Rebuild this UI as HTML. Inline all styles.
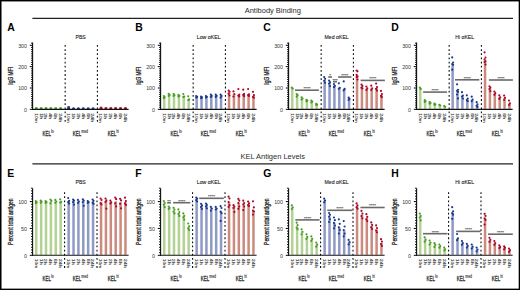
<!DOCTYPE html>
<html><head><meta charset="utf-8"><style>
html,body{margin:0;padding:0;background:#fff;}
body{width:520px;height:290px;position:relative;overflow:hidden;font-family:"Liberation Sans",sans-serif;}
svg text{font-family:"Liberation Sans",sans-serif;}
.frame{position:absolute;left:0;top:0;width:520px;height:290px;box-sizing:border-box;border:1px solid #000;box-shadow:inset 0.6px 0.6px 0 0 #222, inset -0.4px -0.4px 0 0 #444;}
</style></head><body>
<svg width="520" height="290" viewBox="0 0 520 290" style="position:absolute;left:0;top:0">
<rect x="0" y="0" width="520" height="290" fill="#fff"/>
<text x="244.7" y="13.4" font-size="7.6" fill="#2a2a2a" textLength="56.1" lengthAdjust="spacingAndGlyphs">Antibody Binding</text>
<line x1="32.4" y1="18.3" x2="513" y2="18.3" stroke="#222" stroke-width="1.3"/>
<text x="7.2" y="30.8" font-size="10.4" font-weight="bold" fill="#000">A</text>
<text x="80.65" y="38.5" font-size="5.5" fill="#1e1e1e" stroke="#1e1e1e" stroke-width="0.12" text-anchor="middle" textLength="10.3" lengthAdjust="spacingAndGlyphs">PBS</text>
<text transform="translate(13.05,75.8) rotate(-90)" font-size="7.0" fill="#222" stroke="#222" stroke-width="0.3" text-anchor="middle" textLength="17.8" lengthAdjust="spacingAndGlyphs">IgG MFI</text>
<line x1="65.15" y1="45.0" x2="65.15" y2="121.8" stroke="#000" stroke-width="1.05" stroke-dasharray="1.8 2.36"/>
<line x1="97.4" y1="45.0" x2="97.4" y2="121.8" stroke="#000" stroke-width="1.05" stroke-dasharray="1.8 2.36"/>
<rect x="35.00" y="107.60" width="2.5" height="1.25" fill="#b2d293"/>
<rect x="39.88" y="107.60" width="2.5" height="1.25" fill="#b2d293"/>
<rect x="44.76" y="107.60" width="2.5" height="1.25" fill="#b2d293"/>
<rect x="49.64" y="107.60" width="2.5" height="1.25" fill="#b2d293"/>
<rect x="54.52" y="107.60" width="2.5" height="1.25" fill="#b2d293"/>
<rect x="59.40" y="107.60" width="2.5" height="1.25" fill="#b2d293"/>
<rect x="67.40" y="106.50" width="2.5" height="2.35" fill="#8f99c6"/>
<rect x="72.28" y="107.80" width="2.5" height="1.05" fill="#8f99c6"/>
<rect x="77.16" y="107.80" width="2.5" height="1.05" fill="#8f99c6"/>
<rect x="82.04" y="107.80" width="2.5" height="1.05" fill="#8f99c6"/>
<rect x="86.92" y="107.80" width="2.5" height="1.05" fill="#8f99c6"/>
<rect x="91.80" y="107.80" width="2.5" height="1.05" fill="#8f99c6"/>
<rect x="99.80" y="107.00" width="2.5" height="1.85" fill="#cc8a7e"/>
<rect x="104.68" y="107.50" width="2.5" height="1.35" fill="#cc8a7e"/>
<rect x="109.56" y="107.50" width="2.5" height="1.35" fill="#cc8a7e"/>
<rect x="114.44" y="107.50" width="2.5" height="1.35" fill="#cc8a7e"/>
<rect x="119.32" y="107.50" width="2.5" height="1.35" fill="#cc8a7e"/>
<rect x="124.20" y="107.50" width="2.5" height="1.35" fill="#cc8a7e"/>
<path d="M34.65,109.35 A1.6,2.35 0 0 1 37.85,109.35 Z" fill="#4a9c24"/>
<path d="M39.53,109.35 A1.6,2.35 0 0 1 42.73,109.35 Z" fill="#4a9c24"/>
<path d="M44.41,109.35 A1.6,2.35 0 0 1 47.61,109.35 Z" fill="#4a9c24"/>
<path d="M49.29,109.35 A1.6,2.35 0 0 1 52.49,109.35 Z" fill="#4a9c24"/>
<path d="M54.17,109.35 A1.6,2.35 0 0 1 57.37,109.35 Z" fill="#4a9c24"/>
<path d="M59.05,109.35 A1.6,2.35 0 0 1 62.25,109.35 Z" fill="#4a9c24"/>
<path d="M67.05,109.35 A1.6,3.45 0 0 1 70.25,109.35 Z" fill="#1b3a8a"/>
<path d="M71.93,109.35 A1.6,2.15 0 0 1 75.13,109.35 Z" fill="#1b3a8a"/>
<path d="M76.81,109.35 A1.6,2.15 0 0 1 80.01,109.35 Z" fill="#1b3a8a"/>
<path d="M81.69,109.35 A1.6,2.15 0 0 1 84.89,109.35 Z" fill="#1b3a8a"/>
<path d="M86.57,109.35 A1.6,2.15 0 0 1 89.77,109.35 Z" fill="#1b3a8a"/>
<path d="M91.45,109.35 A1.6,2.15 0 0 1 94.65,109.35 Z" fill="#1b3a8a"/>
<path d="M99.45,109.35 A1.6,2.95 0 0 1 102.65,109.35 Z" fill="#ac0828"/>
<path d="M104.33,109.35 A1.6,2.45 0 0 1 107.53,109.35 Z" fill="#ac0828"/>
<path d="M109.21,109.35 A1.6,2.45 0 0 1 112.41,109.35 Z" fill="#ac0828"/>
<path d="M114.09,109.35 A1.6,2.45 0 0 1 117.29,109.35 Z" fill="#ac0828"/>
<path d="M118.97,109.35 A1.6,2.45 0 0 1 122.17,109.35 Z" fill="#ac0828"/>
<path d="M123.85,109.35 A1.6,2.45 0 0 1 127.05,109.35 Z" fill="#ac0828"/>
<line x1="32.6" y1="42.4" x2="32.6" y2="109.85" stroke="#111" stroke-width="1.1"/>
<line x1="32.1" y1="109.35" x2="128.6" y2="109.35" stroke="#111" stroke-width="1.1"/>
<line x1="29.8" y1="109.35" x2="32.6" y2="109.35" stroke="#000" stroke-width="1.0"/>
<text x="27.0" y="111.75" font-size="5.3" fill="#333" text-anchor="end">0</text>
<line x1="31.0" y1="107.21" x2="32.6" y2="107.21" stroke="#000" stroke-width="0.9"/>
<line x1="31.0" y1="105.08" x2="32.6" y2="105.08" stroke="#000" stroke-width="0.9"/>
<line x1="31.0" y1="102.94" x2="32.6" y2="102.94" stroke="#000" stroke-width="0.9"/>
<line x1="31.0" y1="100.81" x2="32.6" y2="100.81" stroke="#000" stroke-width="0.9"/>
<line x1="31.0" y1="98.67" x2="32.6" y2="98.67" stroke="#000" stroke-width="0.9"/>
<line x1="31.0" y1="96.54" x2="32.6" y2="96.54" stroke="#000" stroke-width="0.9"/>
<line x1="31.0" y1="94.41" x2="32.6" y2="94.41" stroke="#000" stroke-width="0.9"/>
<line x1="31.0" y1="92.27" x2="32.6" y2="92.27" stroke="#000" stroke-width="0.9"/>
<line x1="31.0" y1="90.13" x2="32.6" y2="90.13" stroke="#000" stroke-width="0.9"/>
<line x1="29.8" y1="88.00" x2="32.6" y2="88.00" stroke="#000" stroke-width="1.0"/>
<text x="27.0" y="90.40" font-size="5.3" fill="#333" text-anchor="end">100</text>
<line x1="31.0" y1="85.86" x2="32.6" y2="85.86" stroke="#000" stroke-width="0.9"/>
<line x1="31.0" y1="83.73" x2="32.6" y2="83.73" stroke="#000" stroke-width="0.9"/>
<line x1="31.0" y1="81.59" x2="32.6" y2="81.59" stroke="#000" stroke-width="0.9"/>
<line x1="31.0" y1="79.46" x2="32.6" y2="79.46" stroke="#000" stroke-width="0.9"/>
<line x1="31.0" y1="77.32" x2="32.6" y2="77.32" stroke="#000" stroke-width="0.9"/>
<line x1="31.0" y1="75.19" x2="32.6" y2="75.19" stroke="#000" stroke-width="0.9"/>
<line x1="31.0" y1="73.05" x2="32.6" y2="73.05" stroke="#000" stroke-width="0.9"/>
<line x1="31.0" y1="70.92" x2="32.6" y2="70.92" stroke="#000" stroke-width="0.9"/>
<line x1="31.0" y1="68.78" x2="32.6" y2="68.78" stroke="#000" stroke-width="0.9"/>
<line x1="29.8" y1="66.65" x2="32.6" y2="66.65" stroke="#000" stroke-width="1.0"/>
<text x="27.0" y="69.05" font-size="5.3" fill="#333" text-anchor="end">200</text>
<line x1="31.0" y1="64.51" x2="32.6" y2="64.51" stroke="#000" stroke-width="0.9"/>
<line x1="31.0" y1="62.38" x2="32.6" y2="62.38" stroke="#000" stroke-width="0.9"/>
<line x1="31.0" y1="60.24" x2="32.6" y2="60.24" stroke="#000" stroke-width="0.9"/>
<line x1="31.0" y1="58.11" x2="32.6" y2="58.11" stroke="#000" stroke-width="0.9"/>
<line x1="31.0" y1="55.97" x2="32.6" y2="55.97" stroke="#000" stroke-width="0.9"/>
<line x1="31.0" y1="53.84" x2="32.6" y2="53.84" stroke="#000" stroke-width="0.9"/>
<line x1="31.0" y1="51.70" x2="32.6" y2="51.70" stroke="#000" stroke-width="0.9"/>
<line x1="31.0" y1="49.57" x2="32.6" y2="49.57" stroke="#000" stroke-width="0.9"/>
<line x1="31.0" y1="47.43" x2="32.6" y2="47.43" stroke="#000" stroke-width="0.9"/>
<line x1="29.8" y1="45.30" x2="32.6" y2="45.30" stroke="#000" stroke-width="1.0"/>
<text x="27.0" y="47.70" font-size="5.3" fill="#333" text-anchor="end">300</text>
<line x1="31.0" y1="43.16" x2="32.6" y2="43.16" stroke="#000" stroke-width="0.9"/>
<text transform="translate(34.65,113.2) rotate(90)" font-size="4.3" fill="#4a4a4a" stroke="#4a4a4a" stroke-width="0.15" textLength="9.5" lengthAdjust="spacingAndGlyphs">10m</text>
<text transform="translate(39.53,113.2) rotate(90)" font-size="4.3" fill="#4a4a4a" stroke="#4a4a4a" stroke-width="0.15" textLength="6.0" lengthAdjust="spacingAndGlyphs">1h</text>
<text transform="translate(44.41,113.2) rotate(90)" font-size="4.3" fill="#4a4a4a" stroke="#4a4a4a" stroke-width="0.15" textLength="6.0" lengthAdjust="spacingAndGlyphs">2h</text>
<text transform="translate(49.29,113.2) rotate(90)" font-size="4.3" fill="#4a4a4a" stroke="#4a4a4a" stroke-width="0.15" textLength="6.0" lengthAdjust="spacingAndGlyphs">4h</text>
<text transform="translate(54.17,113.2) rotate(90)" font-size="4.3" fill="#4a4a4a" stroke="#4a4a4a" stroke-width="0.15" textLength="6.0" lengthAdjust="spacingAndGlyphs">6h</text>
<text transform="translate(59.05,113.2) rotate(90)" font-size="4.3" fill="#4a4a4a" stroke="#4a4a4a" stroke-width="0.15" textLength="9.0" lengthAdjust="spacingAndGlyphs">24h</text>
<text transform="translate(67.05,113.2) rotate(90)" font-size="4.3" fill="#4a4a4a" stroke="#4a4a4a" stroke-width="0.15" textLength="9.5" lengthAdjust="spacingAndGlyphs">10m</text>
<text transform="translate(71.93,113.2) rotate(90)" font-size="4.3" fill="#4a4a4a" stroke="#4a4a4a" stroke-width="0.15" textLength="6.0" lengthAdjust="spacingAndGlyphs">1h</text>
<text transform="translate(76.81,113.2) rotate(90)" font-size="4.3" fill="#4a4a4a" stroke="#4a4a4a" stroke-width="0.15" textLength="6.0" lengthAdjust="spacingAndGlyphs">2h</text>
<text transform="translate(81.69,113.2) rotate(90)" font-size="4.3" fill="#4a4a4a" stroke="#4a4a4a" stroke-width="0.15" textLength="6.0" lengthAdjust="spacingAndGlyphs">4h</text>
<text transform="translate(86.57,113.2) rotate(90)" font-size="4.3" fill="#4a4a4a" stroke="#4a4a4a" stroke-width="0.15" textLength="6.0" lengthAdjust="spacingAndGlyphs">6h</text>
<text transform="translate(91.45,113.2) rotate(90)" font-size="4.3" fill="#4a4a4a" stroke="#4a4a4a" stroke-width="0.15" textLength="9.0" lengthAdjust="spacingAndGlyphs">24h</text>
<text transform="translate(99.45,113.2) rotate(90)" font-size="4.3" fill="#4a4a4a" stroke="#4a4a4a" stroke-width="0.15" textLength="9.5" lengthAdjust="spacingAndGlyphs">10m</text>
<text transform="translate(104.33,113.2) rotate(90)" font-size="4.3" fill="#4a4a4a" stroke="#4a4a4a" stroke-width="0.15" textLength="6.0" lengthAdjust="spacingAndGlyphs">1h</text>
<text transform="translate(109.21,113.2) rotate(90)" font-size="4.3" fill="#4a4a4a" stroke="#4a4a4a" stroke-width="0.15" textLength="6.0" lengthAdjust="spacingAndGlyphs">2h</text>
<text transform="translate(114.09,113.2) rotate(90)" font-size="4.3" fill="#4a4a4a" stroke="#4a4a4a" stroke-width="0.15" textLength="6.0" lengthAdjust="spacingAndGlyphs">4h</text>
<text transform="translate(118.97,113.2) rotate(90)" font-size="4.3" fill="#4a4a4a" stroke="#4a4a4a" stroke-width="0.15" textLength="6.0" lengthAdjust="spacingAndGlyphs">6h</text>
<text transform="translate(123.85,113.2) rotate(90)" font-size="4.3" fill="#4a4a4a" stroke="#4a4a4a" stroke-width="0.15" textLength="9.0" lengthAdjust="spacingAndGlyphs">24h</text>
<text x="42.50" y="135.8" font-size="8.0" fill="#1a1a1a" stroke="#1a1a1a" stroke-width="0.3" textLength="8.5" lengthAdjust="spacingAndGlyphs">KEL</text>
<text x="50.90" y="133.20" font-size="5.4" font-weight="bold" fill="#333" textLength="3.1" lengthAdjust="spacingAndGlyphs">lo</text>
<text x="72.85" y="135.8" font-size="8.0" fill="#1a1a1a" stroke="#1a1a1a" stroke-width="0.3" textLength="8.5" lengthAdjust="spacingAndGlyphs">KEL</text>
<text x="81.25" y="133.20" font-size="5.4" font-weight="bold" fill="#333" textLength="6.8" lengthAdjust="spacingAndGlyphs">med</text>
<text x="107.75" y="135.8" font-size="8.0" fill="#1a1a1a" stroke="#1a1a1a" stroke-width="0.3" textLength="8.5" lengthAdjust="spacingAndGlyphs">KEL</text>
<text x="116.15" y="133.20" font-size="5.4" font-weight="bold" fill="#333" textLength="2.8" lengthAdjust="spacingAndGlyphs">hi</text>
<text x="135.2" y="30.8" font-size="10.4" font-weight="bold" fill="#000">B</text>
<text x="208.65" y="38.5" font-size="5.5" fill="#1e1e1e" stroke="#1e1e1e" stroke-width="0.12" text-anchor="middle" textLength="23.8" lengthAdjust="spacingAndGlyphs">Low αKEL</text>
<text transform="translate(141.05,75.8) rotate(-90)" font-size="7.0" fill="#222" stroke="#222" stroke-width="0.3" text-anchor="middle" textLength="17.8" lengthAdjust="spacingAndGlyphs">IgG MFI</text>
<line x1="193.15" y1="45.0" x2="193.15" y2="121.8" stroke="#000" stroke-width="1.05" stroke-dasharray="1.8 2.36"/>
<line x1="225.4" y1="45.0" x2="225.4" y2="121.8" stroke="#000" stroke-width="1.05" stroke-dasharray="1.8 2.36"/>
<rect x="163.00" y="97.10" width="2.5" height="11.75" fill="#b2d293"/>
<rect x="167.88" y="94.90" width="2.5" height="13.95" fill="#b2d293"/>
<rect x="172.76" y="95.00" width="2.5" height="13.85" fill="#b2d293"/>
<rect x="177.64" y="95.80" width="2.5" height="13.05" fill="#b2d293"/>
<rect x="182.52" y="96.60" width="2.5" height="12.25" fill="#b2d293"/>
<rect x="187.40" y="99.40" width="2.5" height="9.45" fill="#b2d293"/>
<rect x="195.40" y="96.80" width="2.5" height="12.05" fill="#8f99c6"/>
<rect x="200.28" y="97.40" width="2.5" height="11.45" fill="#8f99c6"/>
<rect x="205.16" y="96.80" width="2.5" height="12.05" fill="#8f99c6"/>
<rect x="210.04" y="95.80" width="2.5" height="13.05" fill="#8f99c6"/>
<rect x="214.92" y="95.80" width="2.5" height="13.05" fill="#8f99c6"/>
<rect x="219.80" y="95.90" width="2.5" height="12.95" fill="#8f99c6"/>
<rect x="227.80" y="92.75" width="2.5" height="16.10" fill="#cc8a7e"/>
<rect x="232.68" y="94.00" width="2.5" height="14.85" fill="#cc8a7e"/>
<rect x="237.56" y="95.05" width="2.5" height="13.80" fill="#cc8a7e"/>
<rect x="242.44" y="94.40" width="2.5" height="14.45" fill="#cc8a7e"/>
<rect x="247.32" y="94.75" width="2.5" height="14.10" fill="#cc8a7e"/>
<rect x="252.20" y="96.10" width="2.5" height="12.75" fill="#cc8a7e"/>
<circle cx="163.80" cy="96.00" r="1.08" fill="#4a9c24"/>
<circle cx="164.70" cy="97.10" r="1.08" fill="#4a9c24"/>
<circle cx="163.80" cy="98.20" r="1.08" fill="#4a9c24"/>
<circle cx="168.68" cy="93.80" r="1.08" fill="#4a9c24"/>
<circle cx="169.58" cy="94.90" r="1.08" fill="#4a9c24"/>
<circle cx="168.68" cy="96.00" r="1.08" fill="#4a9c24"/>
<circle cx="173.56" cy="94.00" r="1.08" fill="#4a9c24"/>
<circle cx="174.46" cy="95.00" r="1.08" fill="#4a9c24"/>
<circle cx="173.56" cy="96.00" r="1.08" fill="#4a9c24"/>
<circle cx="178.44" cy="94.90" r="1.08" fill="#4a9c24"/>
<circle cx="179.34" cy="95.80" r="1.08" fill="#4a9c24"/>
<circle cx="178.44" cy="96.60" r="1.08" fill="#4a9c24"/>
<circle cx="183.32" cy="94.00" r="1.08" fill="#4a9c24"/>
<circle cx="184.22" cy="96.60" r="1.08" fill="#4a9c24"/>
<circle cx="183.32" cy="96.90" r="1.08" fill="#4a9c24"/>
<circle cx="188.20" cy="96.30" r="1.08" fill="#4a9c24"/>
<circle cx="189.10" cy="99.40" r="1.08" fill="#4a9c24"/>
<circle cx="188.20" cy="100.00" r="1.08" fill="#4a9c24"/>
<circle cx="196.20" cy="96.00" r="1.08" fill="#1b3a8a"/>
<circle cx="197.10" cy="96.80" r="1.08" fill="#1b3a8a"/>
<circle cx="196.20" cy="97.60" r="1.08" fill="#1b3a8a"/>
<circle cx="201.08" cy="96.60" r="1.08" fill="#1b3a8a"/>
<circle cx="201.98" cy="97.40" r="1.08" fill="#1b3a8a"/>
<circle cx="201.08" cy="98.20" r="1.08" fill="#1b3a8a"/>
<circle cx="205.96" cy="96.00" r="1.08" fill="#1b3a8a"/>
<circle cx="206.86" cy="96.80" r="1.08" fill="#1b3a8a"/>
<circle cx="205.96" cy="97.60" r="1.08" fill="#1b3a8a"/>
<circle cx="210.84" cy="94.70" r="1.08" fill="#1b3a8a"/>
<circle cx="211.74" cy="95.80" r="1.08" fill="#1b3a8a"/>
<circle cx="210.84" cy="96.90" r="1.08" fill="#1b3a8a"/>
<circle cx="215.72" cy="94.70" r="1.08" fill="#1b3a8a"/>
<circle cx="216.62" cy="95.80" r="1.08" fill="#1b3a8a"/>
<circle cx="215.72" cy="96.90" r="1.08" fill="#1b3a8a"/>
<circle cx="220.60" cy="94.70" r="1.08" fill="#1b3a8a"/>
<circle cx="221.50" cy="95.90" r="1.08" fill="#1b3a8a"/>
<circle cx="220.60" cy="97.60" r="1.08" fill="#1b3a8a"/>
<circle cx="228.60" cy="90.60" r="1.08" fill="#ac0828"/>
<circle cx="229.50" cy="91.80" r="1.08" fill="#ac0828"/>
<circle cx="228.60" cy="93.70" r="1.08" fill="#ac0828"/>
<circle cx="229.50" cy="95.50" r="1.08" fill="#ac0828"/>
<circle cx="233.48" cy="91.40" r="1.08" fill="#ac0828"/>
<circle cx="234.38" cy="94.00" r="1.08" fill="#ac0828"/>
<circle cx="233.48" cy="96.50" r="1.08" fill="#ac0828"/>
<circle cx="238.36" cy="89.00" r="1.08" fill="#ac0828"/>
<circle cx="239.26" cy="94.60" r="1.08" fill="#ac0828"/>
<circle cx="238.36" cy="95.50" r="1.08" fill="#ac0828"/>
<circle cx="239.26" cy="96.40" r="1.08" fill="#ac0828"/>
<circle cx="243.24" cy="89.70" r="1.08" fill="#ac0828"/>
<circle cx="244.14" cy="93.90" r="1.08" fill="#ac0828"/>
<circle cx="243.24" cy="94.90" r="1.08" fill="#ac0828"/>
<circle cx="244.14" cy="96.20" r="1.08" fill="#ac0828"/>
<circle cx="248.12" cy="89.00" r="1.08" fill="#ac0828"/>
<circle cx="249.02" cy="94.30" r="1.08" fill="#ac0828"/>
<circle cx="248.12" cy="95.20" r="1.08" fill="#ac0828"/>
<circle cx="249.02" cy="96.00" r="1.08" fill="#ac0828"/>
<circle cx="253.00" cy="91.80" r="1.08" fill="#ac0828"/>
<circle cx="253.90" cy="95.20" r="1.08" fill="#ac0828"/>
<circle cx="253.00" cy="97.00" r="1.08" fill="#ac0828"/>
<circle cx="253.90" cy="97.70" r="1.08" fill="#ac0828"/>
<line x1="160.6" y1="42.4" x2="160.6" y2="109.85" stroke="#111" stroke-width="1.1"/>
<line x1="160.1" y1="109.35" x2="256.6" y2="109.35" stroke="#111" stroke-width="1.1"/>
<line x1="157.79999999999998" y1="109.35" x2="160.6" y2="109.35" stroke="#000" stroke-width="1.0"/>
<text x="155.0" y="111.75" font-size="5.3" fill="#333" text-anchor="end">0</text>
<line x1="159.0" y1="107.21" x2="160.6" y2="107.21" stroke="#000" stroke-width="0.9"/>
<line x1="159.0" y1="105.08" x2="160.6" y2="105.08" stroke="#000" stroke-width="0.9"/>
<line x1="159.0" y1="102.94" x2="160.6" y2="102.94" stroke="#000" stroke-width="0.9"/>
<line x1="159.0" y1="100.81" x2="160.6" y2="100.81" stroke="#000" stroke-width="0.9"/>
<line x1="159.0" y1="98.67" x2="160.6" y2="98.67" stroke="#000" stroke-width="0.9"/>
<line x1="159.0" y1="96.54" x2="160.6" y2="96.54" stroke="#000" stroke-width="0.9"/>
<line x1="159.0" y1="94.41" x2="160.6" y2="94.41" stroke="#000" stroke-width="0.9"/>
<line x1="159.0" y1="92.27" x2="160.6" y2="92.27" stroke="#000" stroke-width="0.9"/>
<line x1="159.0" y1="90.13" x2="160.6" y2="90.13" stroke="#000" stroke-width="0.9"/>
<line x1="157.79999999999998" y1="88.00" x2="160.6" y2="88.00" stroke="#000" stroke-width="1.0"/>
<text x="155.0" y="90.40" font-size="5.3" fill="#333" text-anchor="end">100</text>
<line x1="159.0" y1="85.86" x2="160.6" y2="85.86" stroke="#000" stroke-width="0.9"/>
<line x1="159.0" y1="83.73" x2="160.6" y2="83.73" stroke="#000" stroke-width="0.9"/>
<line x1="159.0" y1="81.59" x2="160.6" y2="81.59" stroke="#000" stroke-width="0.9"/>
<line x1="159.0" y1="79.46" x2="160.6" y2="79.46" stroke="#000" stroke-width="0.9"/>
<line x1="159.0" y1="77.32" x2="160.6" y2="77.32" stroke="#000" stroke-width="0.9"/>
<line x1="159.0" y1="75.19" x2="160.6" y2="75.19" stroke="#000" stroke-width="0.9"/>
<line x1="159.0" y1="73.05" x2="160.6" y2="73.05" stroke="#000" stroke-width="0.9"/>
<line x1="159.0" y1="70.92" x2="160.6" y2="70.92" stroke="#000" stroke-width="0.9"/>
<line x1="159.0" y1="68.78" x2="160.6" y2="68.78" stroke="#000" stroke-width="0.9"/>
<line x1="157.79999999999998" y1="66.65" x2="160.6" y2="66.65" stroke="#000" stroke-width="1.0"/>
<text x="155.0" y="69.05" font-size="5.3" fill="#333" text-anchor="end">200</text>
<line x1="159.0" y1="64.51" x2="160.6" y2="64.51" stroke="#000" stroke-width="0.9"/>
<line x1="159.0" y1="62.38" x2="160.6" y2="62.38" stroke="#000" stroke-width="0.9"/>
<line x1="159.0" y1="60.24" x2="160.6" y2="60.24" stroke="#000" stroke-width="0.9"/>
<line x1="159.0" y1="58.11" x2="160.6" y2="58.11" stroke="#000" stroke-width="0.9"/>
<line x1="159.0" y1="55.97" x2="160.6" y2="55.97" stroke="#000" stroke-width="0.9"/>
<line x1="159.0" y1="53.84" x2="160.6" y2="53.84" stroke="#000" stroke-width="0.9"/>
<line x1="159.0" y1="51.70" x2="160.6" y2="51.70" stroke="#000" stroke-width="0.9"/>
<line x1="159.0" y1="49.57" x2="160.6" y2="49.57" stroke="#000" stroke-width="0.9"/>
<line x1="159.0" y1="47.43" x2="160.6" y2="47.43" stroke="#000" stroke-width="0.9"/>
<line x1="157.79999999999998" y1="45.30" x2="160.6" y2="45.30" stroke="#000" stroke-width="1.0"/>
<text x="155.0" y="47.70" font-size="5.3" fill="#333" text-anchor="end">300</text>
<line x1="159.0" y1="43.16" x2="160.6" y2="43.16" stroke="#000" stroke-width="0.9"/>
<text transform="translate(162.65,113.2) rotate(90)" font-size="4.3" fill="#4a4a4a" stroke="#4a4a4a" stroke-width="0.15" textLength="9.5" lengthAdjust="spacingAndGlyphs">10m</text>
<text transform="translate(167.53,113.2) rotate(90)" font-size="4.3" fill="#4a4a4a" stroke="#4a4a4a" stroke-width="0.15" textLength="6.0" lengthAdjust="spacingAndGlyphs">1h</text>
<text transform="translate(172.41,113.2) rotate(90)" font-size="4.3" fill="#4a4a4a" stroke="#4a4a4a" stroke-width="0.15" textLength="6.0" lengthAdjust="spacingAndGlyphs">2h</text>
<text transform="translate(177.29,113.2) rotate(90)" font-size="4.3" fill="#4a4a4a" stroke="#4a4a4a" stroke-width="0.15" textLength="6.0" lengthAdjust="spacingAndGlyphs">4h</text>
<text transform="translate(182.17,113.2) rotate(90)" font-size="4.3" fill="#4a4a4a" stroke="#4a4a4a" stroke-width="0.15" textLength="6.0" lengthAdjust="spacingAndGlyphs">6h</text>
<text transform="translate(187.05,113.2) rotate(90)" font-size="4.3" fill="#4a4a4a" stroke="#4a4a4a" stroke-width="0.15" textLength="9.0" lengthAdjust="spacingAndGlyphs">24h</text>
<text transform="translate(195.05,113.2) rotate(90)" font-size="4.3" fill="#4a4a4a" stroke="#4a4a4a" stroke-width="0.15" textLength="9.5" lengthAdjust="spacingAndGlyphs">10m</text>
<text transform="translate(199.93,113.2) rotate(90)" font-size="4.3" fill="#4a4a4a" stroke="#4a4a4a" stroke-width="0.15" textLength="6.0" lengthAdjust="spacingAndGlyphs">1h</text>
<text transform="translate(204.81,113.2) rotate(90)" font-size="4.3" fill="#4a4a4a" stroke="#4a4a4a" stroke-width="0.15" textLength="6.0" lengthAdjust="spacingAndGlyphs">2h</text>
<text transform="translate(209.69,113.2) rotate(90)" font-size="4.3" fill="#4a4a4a" stroke="#4a4a4a" stroke-width="0.15" textLength="6.0" lengthAdjust="spacingAndGlyphs">4h</text>
<text transform="translate(214.57,113.2) rotate(90)" font-size="4.3" fill="#4a4a4a" stroke="#4a4a4a" stroke-width="0.15" textLength="6.0" lengthAdjust="spacingAndGlyphs">6h</text>
<text transform="translate(219.45,113.2) rotate(90)" font-size="4.3" fill="#4a4a4a" stroke="#4a4a4a" stroke-width="0.15" textLength="9.0" lengthAdjust="spacingAndGlyphs">24h</text>
<text transform="translate(227.45,113.2) rotate(90)" font-size="4.3" fill="#4a4a4a" stroke="#4a4a4a" stroke-width="0.15" textLength="9.5" lengthAdjust="spacingAndGlyphs">10m</text>
<text transform="translate(232.33,113.2) rotate(90)" font-size="4.3" fill="#4a4a4a" stroke="#4a4a4a" stroke-width="0.15" textLength="6.0" lengthAdjust="spacingAndGlyphs">1h</text>
<text transform="translate(237.21,113.2) rotate(90)" font-size="4.3" fill="#4a4a4a" stroke="#4a4a4a" stroke-width="0.15" textLength="6.0" lengthAdjust="spacingAndGlyphs">2h</text>
<text transform="translate(242.09,113.2) rotate(90)" font-size="4.3" fill="#4a4a4a" stroke="#4a4a4a" stroke-width="0.15" textLength="6.0" lengthAdjust="spacingAndGlyphs">4h</text>
<text transform="translate(246.97,113.2) rotate(90)" font-size="4.3" fill="#4a4a4a" stroke="#4a4a4a" stroke-width="0.15" textLength="6.0" lengthAdjust="spacingAndGlyphs">6h</text>
<text transform="translate(251.85,113.2) rotate(90)" font-size="4.3" fill="#4a4a4a" stroke="#4a4a4a" stroke-width="0.15" textLength="9.0" lengthAdjust="spacingAndGlyphs">24h</text>
<text x="170.50" y="135.8" font-size="8.0" fill="#1a1a1a" stroke="#1a1a1a" stroke-width="0.3" textLength="8.5" lengthAdjust="spacingAndGlyphs">KEL</text>
<text x="178.90" y="133.20" font-size="5.4" font-weight="bold" fill="#333" textLength="3.1" lengthAdjust="spacingAndGlyphs">lo</text>
<text x="200.85" y="135.8" font-size="8.0" fill="#1a1a1a" stroke="#1a1a1a" stroke-width="0.3" textLength="8.5" lengthAdjust="spacingAndGlyphs">KEL</text>
<text x="209.25" y="133.20" font-size="5.4" font-weight="bold" fill="#333" textLength="6.8" lengthAdjust="spacingAndGlyphs">med</text>
<text x="235.75" y="135.8" font-size="8.0" fill="#1a1a1a" stroke="#1a1a1a" stroke-width="0.3" textLength="8.5" lengthAdjust="spacingAndGlyphs">KEL</text>
<text x="244.15" y="133.20" font-size="5.4" font-weight="bold" fill="#333" textLength="2.8" lengthAdjust="spacingAndGlyphs">hi</text>
<text x="263.2" y="30.8" font-size="10.4" font-weight="bold" fill="#000">C</text>
<text x="336.65" y="38.5" font-size="5.5" fill="#1e1e1e" stroke="#1e1e1e" stroke-width="0.12" text-anchor="middle" textLength="24.2" lengthAdjust="spacingAndGlyphs">Med αKEL</text>
<text transform="translate(269.05,75.8) rotate(-90)" font-size="7.0" fill="#222" stroke="#222" stroke-width="0.3" text-anchor="middle" textLength="17.8" lengthAdjust="spacingAndGlyphs">IgG MFI</text>
<line x1="321.15" y1="45.0" x2="321.15" y2="121.8" stroke="#000" stroke-width="1.05" stroke-dasharray="1.8 2.36"/>
<line x1="353.4" y1="45.0" x2="353.4" y2="121.8" stroke="#000" stroke-width="1.05" stroke-dasharray="1.8 2.36"/>
<rect x="291.00" y="88.10" width="2.5" height="20.75" fill="#b2d293"/>
<rect x="295.88" y="95.20" width="2.5" height="13.65" fill="#b2d293"/>
<rect x="300.76" y="98.50" width="2.5" height="10.35" fill="#b2d293"/>
<rect x="305.64" y="100.60" width="2.5" height="8.25" fill="#b2d293"/>
<rect x="310.52" y="101.60" width="2.5" height="7.25" fill="#b2d293"/>
<rect x="315.40" y="104.50" width="2.5" height="4.35" fill="#b2d293"/>
<rect x="323.40" y="79.80" width="2.5" height="29.05" fill="#8f99c6"/>
<rect x="328.28" y="82.90" width="2.5" height="25.95" fill="#8f99c6"/>
<rect x="333.16" y="85.80" width="2.5" height="23.05" fill="#8f99c6"/>
<rect x="338.04" y="87.80" width="2.5" height="21.05" fill="#8f99c6"/>
<rect x="342.92" y="88.90" width="2.5" height="19.95" fill="#8f99c6"/>
<rect x="347.80" y="98.80" width="2.5" height="10.05" fill="#8f99c6"/>
<rect x="355.80" y="75.55" width="2.5" height="33.30" fill="#cc8a7e"/>
<rect x="360.68" y="86.80" width="2.5" height="22.05" fill="#cc8a7e"/>
<rect x="365.56" y="88.30" width="2.5" height="20.55" fill="#cc8a7e"/>
<rect x="370.44" y="88.30" width="2.5" height="20.55" fill="#cc8a7e"/>
<rect x="375.32" y="88.00" width="2.5" height="20.85" fill="#cc8a7e"/>
<rect x="380.20" y="95.00" width="2.5" height="13.85" fill="#cc8a7e"/>
<circle cx="291.80" cy="87.60" r="1.08" fill="#4a9c24"/>
<circle cx="292.70" cy="88.60" r="1.08" fill="#4a9c24"/>
<circle cx="296.68" cy="94.00" r="1.08" fill="#4a9c24"/>
<circle cx="297.58" cy="95.20" r="1.08" fill="#4a9c24"/>
<circle cx="296.68" cy="96.70" r="1.08" fill="#4a9c24"/>
<circle cx="301.56" cy="97.30" r="1.08" fill="#4a9c24"/>
<circle cx="302.46" cy="98.50" r="1.08" fill="#4a9c24"/>
<circle cx="301.56" cy="99.60" r="1.08" fill="#4a9c24"/>
<circle cx="306.44" cy="99.80" r="1.08" fill="#4a9c24"/>
<circle cx="307.34" cy="100.60" r="1.08" fill="#4a9c24"/>
<circle cx="306.44" cy="101.30" r="1.08" fill="#4a9c24"/>
<circle cx="311.32" cy="100.60" r="1.08" fill="#4a9c24"/>
<circle cx="312.22" cy="101.60" r="1.08" fill="#4a9c24"/>
<circle cx="311.32" cy="102.50" r="1.08" fill="#4a9c24"/>
<circle cx="316.20" cy="103.90" r="1.08" fill="#4a9c24"/>
<circle cx="317.10" cy="104.50" r="1.08" fill="#4a9c24"/>
<circle cx="316.20" cy="105.00" r="1.08" fill="#4a9c24"/>
<circle cx="324.20" cy="77.00" r="1.08" fill="#1b3a8a"/>
<circle cx="325.10" cy="78.80" r="1.08" fill="#1b3a8a"/>
<circle cx="324.20" cy="80.80" r="1.08" fill="#1b3a8a"/>
<circle cx="325.10" cy="82.80" r="1.08" fill="#1b3a8a"/>
<circle cx="329.08" cy="80.60" r="1.08" fill="#1b3a8a"/>
<circle cx="329.98" cy="82.20" r="1.08" fill="#1b3a8a"/>
<circle cx="329.08" cy="83.60" r="1.08" fill="#1b3a8a"/>
<circle cx="329.98" cy="86.10" r="1.08" fill="#1b3a8a"/>
<circle cx="333.96" cy="84.10" r="1.08" fill="#1b3a8a"/>
<circle cx="334.86" cy="85.80" r="1.08" fill="#1b3a8a"/>
<circle cx="333.96" cy="87.20" r="1.08" fill="#1b3a8a"/>
<circle cx="338.84" cy="83.30" r="1.08" fill="#1b3a8a"/>
<circle cx="339.74" cy="87.80" r="1.08" fill="#1b3a8a"/>
<circle cx="338.84" cy="88.80" r="1.08" fill="#1b3a8a"/>
<circle cx="343.72" cy="81.40" r="1.08" fill="#1b3a8a"/>
<circle cx="344.62" cy="88.90" r="1.08" fill="#1b3a8a"/>
<circle cx="343.72" cy="90.40" r="1.08" fill="#1b3a8a"/>
<circle cx="348.60" cy="97.70" r="1.08" fill="#1b3a8a"/>
<circle cx="349.50" cy="98.80" r="1.08" fill="#1b3a8a"/>
<circle cx="348.60" cy="100.00" r="1.08" fill="#1b3a8a"/>
<circle cx="356.60" cy="70.50" r="1.08" fill="#ac0828"/>
<circle cx="357.50" cy="71.30" r="1.08" fill="#ac0828"/>
<circle cx="356.60" cy="74.80" r="1.08" fill="#ac0828"/>
<circle cx="357.50" cy="76.30" r="1.08" fill="#ac0828"/>
<circle cx="356.60" cy="77.10" r="1.08" fill="#ac0828"/>
<circle cx="357.50" cy="79.50" r="1.08" fill="#ac0828"/>
<circle cx="361.48" cy="84.50" r="1.08" fill="#ac0828"/>
<circle cx="362.38" cy="85.90" r="1.08" fill="#ac0828"/>
<circle cx="361.48" cy="87.70" r="1.08" fill="#ac0828"/>
<circle cx="362.38" cy="88.50" r="1.08" fill="#ac0828"/>
<circle cx="366.36" cy="86.50" r="1.08" fill="#ac0828"/>
<circle cx="367.26" cy="88.30" r="1.08" fill="#ac0828"/>
<circle cx="366.36" cy="90.00" r="1.08" fill="#ac0828"/>
<circle cx="371.24" cy="85.70" r="1.08" fill="#ac0828"/>
<circle cx="372.14" cy="88.30" r="1.08" fill="#ac0828"/>
<circle cx="371.24" cy="90.00" r="1.08" fill="#ac0828"/>
<circle cx="376.12" cy="83.60" r="1.08" fill="#ac0828"/>
<circle cx="377.02" cy="87.10" r="1.08" fill="#ac0828"/>
<circle cx="376.12" cy="88.90" r="1.08" fill="#ac0828"/>
<circle cx="377.02" cy="90.60" r="1.08" fill="#ac0828"/>
<circle cx="381.00" cy="90.90" r="1.08" fill="#ac0828"/>
<circle cx="381.90" cy="94.10" r="1.08" fill="#ac0828"/>
<circle cx="381.00" cy="95.90" r="1.08" fill="#ac0828"/>
<circle cx="381.90" cy="97.10" r="1.08" fill="#ac0828"/>
<line x1="288.6" y1="42.4" x2="288.6" y2="109.85" stroke="#111" stroke-width="1.1"/>
<line x1="288.1" y1="109.35" x2="384.6" y2="109.35" stroke="#111" stroke-width="1.1"/>
<line x1="285.8" y1="109.35" x2="288.6" y2="109.35" stroke="#000" stroke-width="1.0"/>
<text x="283.0" y="111.75" font-size="5.3" fill="#333" text-anchor="end">0</text>
<line x1="287.0" y1="107.21" x2="288.6" y2="107.21" stroke="#000" stroke-width="0.9"/>
<line x1="287.0" y1="105.08" x2="288.6" y2="105.08" stroke="#000" stroke-width="0.9"/>
<line x1="287.0" y1="102.94" x2="288.6" y2="102.94" stroke="#000" stroke-width="0.9"/>
<line x1="287.0" y1="100.81" x2="288.6" y2="100.81" stroke="#000" stroke-width="0.9"/>
<line x1="287.0" y1="98.67" x2="288.6" y2="98.67" stroke="#000" stroke-width="0.9"/>
<line x1="287.0" y1="96.54" x2="288.6" y2="96.54" stroke="#000" stroke-width="0.9"/>
<line x1="287.0" y1="94.41" x2="288.6" y2="94.41" stroke="#000" stroke-width="0.9"/>
<line x1="287.0" y1="92.27" x2="288.6" y2="92.27" stroke="#000" stroke-width="0.9"/>
<line x1="287.0" y1="90.13" x2="288.6" y2="90.13" stroke="#000" stroke-width="0.9"/>
<line x1="285.8" y1="88.00" x2="288.6" y2="88.00" stroke="#000" stroke-width="1.0"/>
<text x="283.0" y="90.40" font-size="5.3" fill="#333" text-anchor="end">100</text>
<line x1="287.0" y1="85.86" x2="288.6" y2="85.86" stroke="#000" stroke-width="0.9"/>
<line x1="287.0" y1="83.73" x2="288.6" y2="83.73" stroke="#000" stroke-width="0.9"/>
<line x1="287.0" y1="81.59" x2="288.6" y2="81.59" stroke="#000" stroke-width="0.9"/>
<line x1="287.0" y1="79.46" x2="288.6" y2="79.46" stroke="#000" stroke-width="0.9"/>
<line x1="287.0" y1="77.32" x2="288.6" y2="77.32" stroke="#000" stroke-width="0.9"/>
<line x1="287.0" y1="75.19" x2="288.6" y2="75.19" stroke="#000" stroke-width="0.9"/>
<line x1="287.0" y1="73.05" x2="288.6" y2="73.05" stroke="#000" stroke-width="0.9"/>
<line x1="287.0" y1="70.92" x2="288.6" y2="70.92" stroke="#000" stroke-width="0.9"/>
<line x1="287.0" y1="68.78" x2="288.6" y2="68.78" stroke="#000" stroke-width="0.9"/>
<line x1="285.8" y1="66.65" x2="288.6" y2="66.65" stroke="#000" stroke-width="1.0"/>
<text x="283.0" y="69.05" font-size="5.3" fill="#333" text-anchor="end">200</text>
<line x1="287.0" y1="64.51" x2="288.6" y2="64.51" stroke="#000" stroke-width="0.9"/>
<line x1="287.0" y1="62.38" x2="288.6" y2="62.38" stroke="#000" stroke-width="0.9"/>
<line x1="287.0" y1="60.24" x2="288.6" y2="60.24" stroke="#000" stroke-width="0.9"/>
<line x1="287.0" y1="58.11" x2="288.6" y2="58.11" stroke="#000" stroke-width="0.9"/>
<line x1="287.0" y1="55.97" x2="288.6" y2="55.97" stroke="#000" stroke-width="0.9"/>
<line x1="287.0" y1="53.84" x2="288.6" y2="53.84" stroke="#000" stroke-width="0.9"/>
<line x1="287.0" y1="51.70" x2="288.6" y2="51.70" stroke="#000" stroke-width="0.9"/>
<line x1="287.0" y1="49.57" x2="288.6" y2="49.57" stroke="#000" stroke-width="0.9"/>
<line x1="287.0" y1="47.43" x2="288.6" y2="47.43" stroke="#000" stroke-width="0.9"/>
<line x1="285.8" y1="45.30" x2="288.6" y2="45.30" stroke="#000" stroke-width="1.0"/>
<text x="283.0" y="47.70" font-size="5.3" fill="#333" text-anchor="end">300</text>
<line x1="287.0" y1="43.16" x2="288.6" y2="43.16" stroke="#000" stroke-width="0.9"/>
<text transform="translate(290.65,113.2) rotate(90)" font-size="4.3" fill="#4a4a4a" stroke="#4a4a4a" stroke-width="0.15" textLength="9.5" lengthAdjust="spacingAndGlyphs">10m</text>
<text transform="translate(295.53,113.2) rotate(90)" font-size="4.3" fill="#4a4a4a" stroke="#4a4a4a" stroke-width="0.15" textLength="6.0" lengthAdjust="spacingAndGlyphs">1h</text>
<text transform="translate(300.41,113.2) rotate(90)" font-size="4.3" fill="#4a4a4a" stroke="#4a4a4a" stroke-width="0.15" textLength="6.0" lengthAdjust="spacingAndGlyphs">2h</text>
<text transform="translate(305.29,113.2) rotate(90)" font-size="4.3" fill="#4a4a4a" stroke="#4a4a4a" stroke-width="0.15" textLength="6.0" lengthAdjust="spacingAndGlyphs">4h</text>
<text transform="translate(310.17,113.2) rotate(90)" font-size="4.3" fill="#4a4a4a" stroke="#4a4a4a" stroke-width="0.15" textLength="6.0" lengthAdjust="spacingAndGlyphs">6h</text>
<text transform="translate(315.05,113.2) rotate(90)" font-size="4.3" fill="#4a4a4a" stroke="#4a4a4a" stroke-width="0.15" textLength="9.0" lengthAdjust="spacingAndGlyphs">24h</text>
<text transform="translate(323.05,113.2) rotate(90)" font-size="4.3" fill="#4a4a4a" stroke="#4a4a4a" stroke-width="0.15" textLength="9.5" lengthAdjust="spacingAndGlyphs">10m</text>
<text transform="translate(327.93,113.2) rotate(90)" font-size="4.3" fill="#4a4a4a" stroke="#4a4a4a" stroke-width="0.15" textLength="6.0" lengthAdjust="spacingAndGlyphs">1h</text>
<text transform="translate(332.81,113.2) rotate(90)" font-size="4.3" fill="#4a4a4a" stroke="#4a4a4a" stroke-width="0.15" textLength="6.0" lengthAdjust="spacingAndGlyphs">2h</text>
<text transform="translate(337.69,113.2) rotate(90)" font-size="4.3" fill="#4a4a4a" stroke="#4a4a4a" stroke-width="0.15" textLength="6.0" lengthAdjust="spacingAndGlyphs">4h</text>
<text transform="translate(342.57,113.2) rotate(90)" font-size="4.3" fill="#4a4a4a" stroke="#4a4a4a" stroke-width="0.15" textLength="6.0" lengthAdjust="spacingAndGlyphs">6h</text>
<text transform="translate(347.45,113.2) rotate(90)" font-size="4.3" fill="#4a4a4a" stroke="#4a4a4a" stroke-width="0.15" textLength="9.0" lengthAdjust="spacingAndGlyphs">24h</text>
<text transform="translate(355.45,113.2) rotate(90)" font-size="4.3" fill="#4a4a4a" stroke="#4a4a4a" stroke-width="0.15" textLength="9.5" lengthAdjust="spacingAndGlyphs">10m</text>
<text transform="translate(360.33,113.2) rotate(90)" font-size="4.3" fill="#4a4a4a" stroke="#4a4a4a" stroke-width="0.15" textLength="6.0" lengthAdjust="spacingAndGlyphs">1h</text>
<text transform="translate(365.21,113.2) rotate(90)" font-size="4.3" fill="#4a4a4a" stroke="#4a4a4a" stroke-width="0.15" textLength="6.0" lengthAdjust="spacingAndGlyphs">2h</text>
<text transform="translate(370.09,113.2) rotate(90)" font-size="4.3" fill="#4a4a4a" stroke="#4a4a4a" stroke-width="0.15" textLength="6.0" lengthAdjust="spacingAndGlyphs">4h</text>
<text transform="translate(374.97,113.2) rotate(90)" font-size="4.3" fill="#4a4a4a" stroke="#4a4a4a" stroke-width="0.15" textLength="6.0" lengthAdjust="spacingAndGlyphs">6h</text>
<text transform="translate(379.85,113.2) rotate(90)" font-size="4.3" fill="#4a4a4a" stroke="#4a4a4a" stroke-width="0.15" textLength="9.0" lengthAdjust="spacingAndGlyphs">24h</text>
<text x="298.50" y="135.8" font-size="8.0" fill="#1a1a1a" stroke="#1a1a1a" stroke-width="0.3" textLength="8.5" lengthAdjust="spacingAndGlyphs">KEL</text>
<text x="306.90" y="133.20" font-size="5.4" font-weight="bold" fill="#333" textLength="3.1" lengthAdjust="spacingAndGlyphs">lo</text>
<text x="328.85" y="135.8" font-size="8.0" fill="#1a1a1a" stroke="#1a1a1a" stroke-width="0.3" textLength="8.5" lengthAdjust="spacingAndGlyphs">KEL</text>
<text x="337.25" y="133.20" font-size="5.4" font-weight="bold" fill="#333" textLength="6.8" lengthAdjust="spacingAndGlyphs">med</text>
<text x="363.75" y="135.8" font-size="8.0" fill="#1a1a1a" stroke="#1a1a1a" stroke-width="0.3" textLength="8.5" lengthAdjust="spacingAndGlyphs">KEL</text>
<text x="372.15" y="133.20" font-size="5.4" font-weight="bold" fill="#333" textLength="2.8" lengthAdjust="spacingAndGlyphs">hi</text>
<line x1="295" y1="90.2" x2="318.9" y2="90.2" stroke="#6a6a6a" stroke-width="1.6"/>
<text x="306.95" y="90.10" font-size="4.4" fill="#3a3a3a" stroke="#3a3a3a" stroke-width="0.1" text-anchor="middle" textLength="7.00" lengthAdjust="spacingAndGlyphs">****</text>
<line x1="328.2" y1="77.0" x2="332" y2="77.0" stroke="#6a6a6a" stroke-width="1.6"/>
<text x="330.10" y="76.90" font-size="4.4" fill="#3a3a3a" stroke="#3a3a3a" stroke-width="0.1" text-anchor="middle" textLength="1.75" lengthAdjust="spacingAndGlyphs">*</text>
<line x1="333" y1="81.7" x2="337" y2="81.7" stroke="#6a6a6a" stroke-width="1.6"/>
<text x="335.00" y="81.60" font-size="4.4" fill="#3a3a3a" stroke="#3a3a3a" stroke-width="0.1" text-anchor="middle" textLength="5.25" lengthAdjust="spacingAndGlyphs">***</text>
<line x1="338.1" y1="77.0" x2="351.4" y2="77.0" stroke="#6a6a6a" stroke-width="1.6"/>
<text x="344.75" y="76.90" font-size="4.4" fill="#3a3a3a" stroke="#3a3a3a" stroke-width="0.1" text-anchor="middle" textLength="7.00" lengthAdjust="spacingAndGlyphs">****</text>
<line x1="360.6" y1="80.4" x2="384.9" y2="80.4" stroke="#6a6a6a" stroke-width="1.6"/>
<text x="372.75" y="80.30" font-size="4.4" fill="#3a3a3a" stroke="#3a3a3a" stroke-width="0.1" text-anchor="middle" textLength="7.00" lengthAdjust="spacingAndGlyphs">****</text>
<text x="391.2" y="30.8" font-size="10.4" font-weight="bold" fill="#000">D</text>
<text x="464.65" y="38.5" font-size="5.5" fill="#1e1e1e" stroke="#1e1e1e" stroke-width="0.12" text-anchor="middle" textLength="19.0" lengthAdjust="spacingAndGlyphs">Hi αKEL</text>
<text transform="translate(397.05,75.8) rotate(-90)" font-size="7.0" fill="#222" stroke="#222" stroke-width="0.3" text-anchor="middle" textLength="17.8" lengthAdjust="spacingAndGlyphs">IgG MFI</text>
<line x1="449.15" y1="45.0" x2="449.15" y2="121.8" stroke="#000" stroke-width="1.05" stroke-dasharray="1.8 2.36"/>
<line x1="481.4" y1="45.0" x2="481.4" y2="121.8" stroke="#000" stroke-width="1.05" stroke-dasharray="1.8 2.36"/>
<rect x="419.00" y="88.25" width="2.5" height="20.60" fill="#b2d293"/>
<rect x="423.88" y="101.00" width="2.5" height="7.85" fill="#b2d293"/>
<rect x="428.76" y="102.90" width="2.5" height="5.95" fill="#b2d293"/>
<rect x="433.64" y="104.30" width="2.5" height="4.55" fill="#b2d293"/>
<rect x="438.52" y="105.15" width="2.5" height="3.70" fill="#b2d293"/>
<rect x="443.40" y="106.40" width="2.5" height="2.45" fill="#b2d293"/>
<rect x="451.40" y="64.00" width="2.5" height="44.85" fill="#8f99c6"/>
<rect x="456.28" y="91.35" width="2.5" height="17.50" fill="#8f99c6"/>
<rect x="461.16" y="96.00" width="2.5" height="12.85" fill="#8f99c6"/>
<rect x="466.04" y="99.35" width="2.5" height="9.50" fill="#8f99c6"/>
<rect x="470.92" y="99.60" width="2.5" height="9.25" fill="#8f99c6"/>
<rect x="475.80" y="105.05" width="2.5" height="3.80" fill="#8f99c6"/>
<rect x="483.80" y="60.35" width="2.5" height="48.50" fill="#cc8a7e"/>
<rect x="488.68" y="88.35" width="2.5" height="20.50" fill="#cc8a7e"/>
<rect x="493.56" y="93.20" width="2.5" height="15.65" fill="#cc8a7e"/>
<rect x="498.44" y="97.30" width="2.5" height="11.55" fill="#cc8a7e"/>
<rect x="503.32" y="97.80" width="2.5" height="11.05" fill="#cc8a7e"/>
<rect x="508.20" y="103.40" width="2.5" height="5.45" fill="#cc8a7e"/>
<circle cx="419.80" cy="87.60" r="1.08" fill="#4a9c24"/>
<circle cx="420.70" cy="88.90" r="1.08" fill="#4a9c24"/>
<circle cx="424.68" cy="100.10" r="1.08" fill="#4a9c24"/>
<circle cx="425.58" cy="101.00" r="1.08" fill="#4a9c24"/>
<circle cx="424.68" cy="101.90" r="1.08" fill="#4a9c24"/>
<circle cx="429.56" cy="102.10" r="1.08" fill="#4a9c24"/>
<circle cx="430.46" cy="102.90" r="1.08" fill="#4a9c24"/>
<circle cx="429.56" cy="103.70" r="1.08" fill="#4a9c24"/>
<circle cx="434.44" cy="103.70" r="1.08" fill="#4a9c24"/>
<circle cx="435.34" cy="104.30" r="1.08" fill="#4a9c24"/>
<circle cx="434.44" cy="104.80" r="1.08" fill="#4a9c24"/>
<circle cx="439.32" cy="104.80" r="1.08" fill="#4a9c24"/>
<circle cx="440.22" cy="105.50" r="1.08" fill="#4a9c24"/>
<circle cx="444.20" cy="106.00" r="1.08" fill="#4a9c24"/>
<circle cx="445.10" cy="106.80" r="1.08" fill="#4a9c24"/>
<circle cx="452.20" cy="57.40" r="1.08" fill="#1b3a8a"/>
<circle cx="453.10" cy="62.50" r="1.08" fill="#1b3a8a"/>
<circle cx="452.20" cy="64.00" r="1.08" fill="#1b3a8a"/>
<circle cx="453.10" cy="64.80" r="1.08" fill="#1b3a8a"/>
<circle cx="452.20" cy="69.70" r="1.08" fill="#1b3a8a"/>
<circle cx="457.08" cy="84.30" r="1.08" fill="#1b3a8a"/>
<circle cx="457.98" cy="89.80" r="1.08" fill="#1b3a8a"/>
<circle cx="457.08" cy="90.80" r="1.08" fill="#1b3a8a"/>
<circle cx="457.98" cy="91.90" r="1.08" fill="#1b3a8a"/>
<circle cx="457.08" cy="94.50" r="1.08" fill="#1b3a8a"/>
<circle cx="457.98" cy="98.40" r="1.08" fill="#1b3a8a"/>
<circle cx="461.96" cy="92.20" r="1.08" fill="#1b3a8a"/>
<circle cx="462.86" cy="95.50" r="1.08" fill="#1b3a8a"/>
<circle cx="461.96" cy="96.50" r="1.08" fill="#1b3a8a"/>
<circle cx="462.86" cy="98.60" r="1.08" fill="#1b3a8a"/>
<circle cx="466.84" cy="95.30" r="1.08" fill="#1b3a8a"/>
<circle cx="467.74" cy="98.60" r="1.08" fill="#1b3a8a"/>
<circle cx="466.84" cy="100.10" r="1.08" fill="#1b3a8a"/>
<circle cx="467.74" cy="101.20" r="1.08" fill="#1b3a8a"/>
<circle cx="471.72" cy="96.70" r="1.08" fill="#1b3a8a"/>
<circle cx="472.62" cy="99.60" r="1.08" fill="#1b3a8a"/>
<circle cx="471.72" cy="101.20" r="1.08" fill="#1b3a8a"/>
<circle cx="476.60" cy="102.20" r="1.08" fill="#1b3a8a"/>
<circle cx="477.50" cy="104.30" r="1.08" fill="#1b3a8a"/>
<circle cx="476.60" cy="105.80" r="1.08" fill="#1b3a8a"/>
<circle cx="477.50" cy="107.10" r="1.08" fill="#1b3a8a"/>
<circle cx="484.60" cy="52.30" r="1.08" fill="#ac0828"/>
<circle cx="485.50" cy="57.50" r="1.08" fill="#ac0828"/>
<circle cx="484.60" cy="59.40" r="1.08" fill="#ac0828"/>
<circle cx="485.50" cy="61.30" r="1.08" fill="#ac0828"/>
<circle cx="484.60" cy="62.00" r="1.08" fill="#ac0828"/>
<circle cx="485.50" cy="64.60" r="1.08" fill="#ac0828"/>
<circle cx="489.48" cy="86.30" r="1.08" fill="#ac0828"/>
<circle cx="490.38" cy="87.70" r="1.08" fill="#ac0828"/>
<circle cx="489.48" cy="89.00" r="1.08" fill="#ac0828"/>
<circle cx="490.38" cy="91.20" r="1.08" fill="#ac0828"/>
<circle cx="494.36" cy="91.50" r="1.08" fill="#ac0828"/>
<circle cx="495.26" cy="93.20" r="1.08" fill="#ac0828"/>
<circle cx="494.36" cy="94.80" r="1.08" fill="#ac0828"/>
<circle cx="499.24" cy="95.40" r="1.08" fill="#ac0828"/>
<circle cx="500.14" cy="97.30" r="1.08" fill="#ac0828"/>
<circle cx="499.24" cy="98.90" r="1.08" fill="#ac0828"/>
<circle cx="504.12" cy="95.60" r="1.08" fill="#ac0828"/>
<circle cx="505.02" cy="97.80" r="1.08" fill="#ac0828"/>
<circle cx="504.12" cy="100.00" r="1.08" fill="#ac0828"/>
<circle cx="509.00" cy="100.60" r="1.08" fill="#ac0828"/>
<circle cx="509.90" cy="103.40" r="1.08" fill="#ac0828"/>
<circle cx="509.00" cy="105.00" r="1.08" fill="#ac0828"/>
<line x1="416.6" y1="42.4" x2="416.6" y2="109.85" stroke="#111" stroke-width="1.1"/>
<line x1="416.1" y1="109.35" x2="512.6" y2="109.35" stroke="#111" stroke-width="1.1"/>
<line x1="413.8" y1="109.35" x2="416.6" y2="109.35" stroke="#000" stroke-width="1.0"/>
<text x="411.0" y="111.75" font-size="5.3" fill="#333" text-anchor="end">0</text>
<line x1="415.0" y1="107.21" x2="416.6" y2="107.21" stroke="#000" stroke-width="0.9"/>
<line x1="415.0" y1="105.08" x2="416.6" y2="105.08" stroke="#000" stroke-width="0.9"/>
<line x1="415.0" y1="102.94" x2="416.6" y2="102.94" stroke="#000" stroke-width="0.9"/>
<line x1="415.0" y1="100.81" x2="416.6" y2="100.81" stroke="#000" stroke-width="0.9"/>
<line x1="415.0" y1="98.67" x2="416.6" y2="98.67" stroke="#000" stroke-width="0.9"/>
<line x1="415.0" y1="96.54" x2="416.6" y2="96.54" stroke="#000" stroke-width="0.9"/>
<line x1="415.0" y1="94.41" x2="416.6" y2="94.41" stroke="#000" stroke-width="0.9"/>
<line x1="415.0" y1="92.27" x2="416.6" y2="92.27" stroke="#000" stroke-width="0.9"/>
<line x1="415.0" y1="90.13" x2="416.6" y2="90.13" stroke="#000" stroke-width="0.9"/>
<line x1="413.8" y1="88.00" x2="416.6" y2="88.00" stroke="#000" stroke-width="1.0"/>
<text x="411.0" y="90.40" font-size="5.3" fill="#333" text-anchor="end">100</text>
<line x1="415.0" y1="85.86" x2="416.6" y2="85.86" stroke="#000" stroke-width="0.9"/>
<line x1="415.0" y1="83.73" x2="416.6" y2="83.73" stroke="#000" stroke-width="0.9"/>
<line x1="415.0" y1="81.59" x2="416.6" y2="81.59" stroke="#000" stroke-width="0.9"/>
<line x1="415.0" y1="79.46" x2="416.6" y2="79.46" stroke="#000" stroke-width="0.9"/>
<line x1="415.0" y1="77.32" x2="416.6" y2="77.32" stroke="#000" stroke-width="0.9"/>
<line x1="415.0" y1="75.19" x2="416.6" y2="75.19" stroke="#000" stroke-width="0.9"/>
<line x1="415.0" y1="73.05" x2="416.6" y2="73.05" stroke="#000" stroke-width="0.9"/>
<line x1="415.0" y1="70.92" x2="416.6" y2="70.92" stroke="#000" stroke-width="0.9"/>
<line x1="415.0" y1="68.78" x2="416.6" y2="68.78" stroke="#000" stroke-width="0.9"/>
<line x1="413.8" y1="66.65" x2="416.6" y2="66.65" stroke="#000" stroke-width="1.0"/>
<text x="411.0" y="69.05" font-size="5.3" fill="#333" text-anchor="end">200</text>
<line x1="415.0" y1="64.51" x2="416.6" y2="64.51" stroke="#000" stroke-width="0.9"/>
<line x1="415.0" y1="62.38" x2="416.6" y2="62.38" stroke="#000" stroke-width="0.9"/>
<line x1="415.0" y1="60.24" x2="416.6" y2="60.24" stroke="#000" stroke-width="0.9"/>
<line x1="415.0" y1="58.11" x2="416.6" y2="58.11" stroke="#000" stroke-width="0.9"/>
<line x1="415.0" y1="55.97" x2="416.6" y2="55.97" stroke="#000" stroke-width="0.9"/>
<line x1="415.0" y1="53.84" x2="416.6" y2="53.84" stroke="#000" stroke-width="0.9"/>
<line x1="415.0" y1="51.70" x2="416.6" y2="51.70" stroke="#000" stroke-width="0.9"/>
<line x1="415.0" y1="49.57" x2="416.6" y2="49.57" stroke="#000" stroke-width="0.9"/>
<line x1="415.0" y1="47.43" x2="416.6" y2="47.43" stroke="#000" stroke-width="0.9"/>
<line x1="413.8" y1="45.30" x2="416.6" y2="45.30" stroke="#000" stroke-width="1.0"/>
<text x="411.0" y="47.70" font-size="5.3" fill="#333" text-anchor="end">300</text>
<line x1="415.0" y1="43.16" x2="416.6" y2="43.16" stroke="#000" stroke-width="0.9"/>
<text transform="translate(418.65,113.2) rotate(90)" font-size="4.3" fill="#4a4a4a" stroke="#4a4a4a" stroke-width="0.15" textLength="9.5" lengthAdjust="spacingAndGlyphs">10m</text>
<text transform="translate(423.53,113.2) rotate(90)" font-size="4.3" fill="#4a4a4a" stroke="#4a4a4a" stroke-width="0.15" textLength="6.0" lengthAdjust="spacingAndGlyphs">1h</text>
<text transform="translate(428.41,113.2) rotate(90)" font-size="4.3" fill="#4a4a4a" stroke="#4a4a4a" stroke-width="0.15" textLength="6.0" lengthAdjust="spacingAndGlyphs">2h</text>
<text transform="translate(433.29,113.2) rotate(90)" font-size="4.3" fill="#4a4a4a" stroke="#4a4a4a" stroke-width="0.15" textLength="6.0" lengthAdjust="spacingAndGlyphs">4h</text>
<text transform="translate(438.17,113.2) rotate(90)" font-size="4.3" fill="#4a4a4a" stroke="#4a4a4a" stroke-width="0.15" textLength="6.0" lengthAdjust="spacingAndGlyphs">6h</text>
<text transform="translate(443.05,113.2) rotate(90)" font-size="4.3" fill="#4a4a4a" stroke="#4a4a4a" stroke-width="0.15" textLength="9.0" lengthAdjust="spacingAndGlyphs">24h</text>
<text transform="translate(451.05,113.2) rotate(90)" font-size="4.3" fill="#4a4a4a" stroke="#4a4a4a" stroke-width="0.15" textLength="9.5" lengthAdjust="spacingAndGlyphs">10m</text>
<text transform="translate(455.93,113.2) rotate(90)" font-size="4.3" fill="#4a4a4a" stroke="#4a4a4a" stroke-width="0.15" textLength="6.0" lengthAdjust="spacingAndGlyphs">1h</text>
<text transform="translate(460.81,113.2) rotate(90)" font-size="4.3" fill="#4a4a4a" stroke="#4a4a4a" stroke-width="0.15" textLength="6.0" lengthAdjust="spacingAndGlyphs">2h</text>
<text transform="translate(465.69,113.2) rotate(90)" font-size="4.3" fill="#4a4a4a" stroke="#4a4a4a" stroke-width="0.15" textLength="6.0" lengthAdjust="spacingAndGlyphs">4h</text>
<text transform="translate(470.57,113.2) rotate(90)" font-size="4.3" fill="#4a4a4a" stroke="#4a4a4a" stroke-width="0.15" textLength="6.0" lengthAdjust="spacingAndGlyphs">6h</text>
<text transform="translate(475.45,113.2) rotate(90)" font-size="4.3" fill="#4a4a4a" stroke="#4a4a4a" stroke-width="0.15" textLength="9.0" lengthAdjust="spacingAndGlyphs">24h</text>
<text transform="translate(483.45,113.2) rotate(90)" font-size="4.3" fill="#4a4a4a" stroke="#4a4a4a" stroke-width="0.15" textLength="9.5" lengthAdjust="spacingAndGlyphs">10m</text>
<text transform="translate(488.33,113.2) rotate(90)" font-size="4.3" fill="#4a4a4a" stroke="#4a4a4a" stroke-width="0.15" textLength="6.0" lengthAdjust="spacingAndGlyphs">1h</text>
<text transform="translate(493.21,113.2) rotate(90)" font-size="4.3" fill="#4a4a4a" stroke="#4a4a4a" stroke-width="0.15" textLength="6.0" lengthAdjust="spacingAndGlyphs">2h</text>
<text transform="translate(498.09,113.2) rotate(90)" font-size="4.3" fill="#4a4a4a" stroke="#4a4a4a" stroke-width="0.15" textLength="6.0" lengthAdjust="spacingAndGlyphs">4h</text>
<text transform="translate(502.97,113.2) rotate(90)" font-size="4.3" fill="#4a4a4a" stroke="#4a4a4a" stroke-width="0.15" textLength="6.0" lengthAdjust="spacingAndGlyphs">6h</text>
<text transform="translate(507.85,113.2) rotate(90)" font-size="4.3" fill="#4a4a4a" stroke="#4a4a4a" stroke-width="0.15" textLength="9.0" lengthAdjust="spacingAndGlyphs">24h</text>
<text x="426.50" y="135.8" font-size="8.0" fill="#1a1a1a" stroke="#1a1a1a" stroke-width="0.3" textLength="8.5" lengthAdjust="spacingAndGlyphs">KEL</text>
<text x="434.90" y="133.20" font-size="5.4" font-weight="bold" fill="#333" textLength="3.1" lengthAdjust="spacingAndGlyphs">lo</text>
<text x="456.85" y="135.8" font-size="8.0" fill="#1a1a1a" stroke="#1a1a1a" stroke-width="0.3" textLength="8.5" lengthAdjust="spacingAndGlyphs">KEL</text>
<text x="465.25" y="133.20" font-size="5.4" font-weight="bold" fill="#333" textLength="6.8" lengthAdjust="spacingAndGlyphs">med</text>
<text x="491.75" y="135.8" font-size="8.0" fill="#1a1a1a" stroke="#1a1a1a" stroke-width="0.3" textLength="8.5" lengthAdjust="spacingAndGlyphs">KEL</text>
<text x="500.15" y="133.20" font-size="5.4" font-weight="bold" fill="#333" textLength="2.8" lengthAdjust="spacingAndGlyphs">hi</text>
<line x1="423.1" y1="92.1" x2="447" y2="92.1" stroke="#6a6a6a" stroke-width="1.6"/>
<text x="435.05" y="92.00" font-size="4.4" fill="#3a3a3a" stroke="#3a3a3a" stroke-width="0.1" text-anchor="middle" textLength="7.00" lengthAdjust="spacingAndGlyphs">****</text>
<line x1="455" y1="79.8" x2="479.3" y2="79.8" stroke="#6a6a6a" stroke-width="1.6"/>
<text x="467.15" y="79.70" font-size="4.4" fill="#3a3a3a" stroke="#3a3a3a" stroke-width="0.1" text-anchor="middle" textLength="7.00" lengthAdjust="spacingAndGlyphs">****</text>
<line x1="488.9" y1="80.0" x2="512.9" y2="80.0" stroke="#6a6a6a" stroke-width="1.6"/>
<text x="500.90" y="79.90" font-size="4.4" fill="#3a3a3a" stroke="#3a3a3a" stroke-width="0.1" text-anchor="middle" textLength="7.00" lengthAdjust="spacingAndGlyphs">****</text>
<text x="240.5" y="158.8" font-size="7.6" fill="#2a2a2a" textLength="64.5" lengthAdjust="spacingAndGlyphs">KEL Antigen Levels</text>
<line x1="32.4" y1="163.8" x2="513" y2="163.8" stroke="#222" stroke-width="1.3"/>
<text x="7.2" y="176.6" font-size="10.4" font-weight="bold" fill="#000">E</text>
<text x="80.65" y="184.0" font-size="5.5" fill="#1e1e1e" stroke="#1e1e1e" stroke-width="0.12" text-anchor="middle" textLength="10.3" lengthAdjust="spacingAndGlyphs">PBS</text>
<text transform="translate(13.05,221.65) rotate(-90)" font-size="7.0" fill="#222" stroke="#222" stroke-width="0.3" text-anchor="middle" textLength="46.5" lengthAdjust="spacingAndGlyphs">Percent total antigen</text>
<line x1="64.6" y1="192.2" x2="64.6" y2="268.2" stroke="#000" stroke-width="1.05" stroke-dasharray="1.8 2.305"/>
<line x1="97.0" y1="192.2" x2="97.0" y2="268.2" stroke="#000" stroke-width="1.05" stroke-dasharray="1.8 2.305"/>
<rect x="35.00" y="202.20" width="2.5" height="52.60" fill="#b2d293"/>
<rect x="39.88" y="201.60" width="2.5" height="53.20" fill="#b2d293"/>
<rect x="44.76" y="202.20" width="2.5" height="52.60" fill="#b2d293"/>
<rect x="49.64" y="200.80" width="2.5" height="54.00" fill="#b2d293"/>
<rect x="54.52" y="201.50" width="2.5" height="53.30" fill="#b2d293"/>
<rect x="59.40" y="201.80" width="2.5" height="53.00" fill="#b2d293"/>
<rect x="67.40" y="201.45" width="2.5" height="53.35" fill="#8f99c6"/>
<rect x="72.28" y="201.30" width="2.5" height="53.50" fill="#8f99c6"/>
<rect x="77.16" y="201.50" width="2.5" height="53.30" fill="#8f99c6"/>
<rect x="82.04" y="201.30" width="2.5" height="53.50" fill="#8f99c6"/>
<rect x="86.92" y="202.10" width="2.5" height="52.70" fill="#8f99c6"/>
<rect x="91.80" y="201.75" width="2.5" height="53.05" fill="#8f99c6"/>
<rect x="99.80" y="201.70" width="2.5" height="53.10" fill="#cc8a7e"/>
<rect x="104.68" y="201.15" width="2.5" height="53.65" fill="#cc8a7e"/>
<rect x="109.56" y="202.30" width="2.5" height="52.50" fill="#cc8a7e"/>
<rect x="114.44" y="201.30" width="2.5" height="53.50" fill="#cc8a7e"/>
<rect x="119.32" y="202.10" width="2.5" height="52.70" fill="#cc8a7e"/>
<rect x="124.20" y="202.25" width="2.5" height="52.55" fill="#cc8a7e"/>
<circle cx="35.80" cy="201.20" r="1.08" fill="#4a9c24"/>
<circle cx="36.70" cy="202.20" r="1.08" fill="#4a9c24"/>
<circle cx="35.80" cy="203.20" r="1.08" fill="#4a9c24"/>
<circle cx="40.68" cy="200.60" r="1.08" fill="#4a9c24"/>
<circle cx="41.58" cy="201.60" r="1.08" fill="#4a9c24"/>
<circle cx="40.68" cy="202.80" r="1.08" fill="#4a9c24"/>
<circle cx="45.56" cy="201.20" r="1.08" fill="#4a9c24"/>
<circle cx="46.46" cy="202.20" r="1.08" fill="#4a9c24"/>
<circle cx="45.56" cy="203.00" r="1.08" fill="#4a9c24"/>
<circle cx="50.44" cy="199.50" r="1.08" fill="#4a9c24"/>
<circle cx="51.34" cy="200.80" r="1.08" fill="#4a9c24"/>
<circle cx="50.44" cy="203.30" r="1.08" fill="#4a9c24"/>
<circle cx="55.32" cy="199.90" r="1.08" fill="#4a9c24"/>
<circle cx="56.22" cy="201.50" r="1.08" fill="#4a9c24"/>
<circle cx="55.32" cy="202.80" r="1.08" fill="#4a9c24"/>
<circle cx="60.20" cy="199.40" r="1.08" fill="#4a9c24"/>
<circle cx="61.10" cy="201.80" r="1.08" fill="#4a9c24"/>
<circle cx="60.20" cy="202.60" r="1.08" fill="#4a9c24"/>
<circle cx="68.20" cy="198.00" r="1.08" fill="#1b3a8a"/>
<circle cx="69.10" cy="200.80" r="1.08" fill="#1b3a8a"/>
<circle cx="68.20" cy="202.10" r="1.08" fill="#1b3a8a"/>
<circle cx="69.10" cy="203.60" r="1.08" fill="#1b3a8a"/>
<circle cx="73.08" cy="199.60" r="1.08" fill="#1b3a8a"/>
<circle cx="73.98" cy="200.50" r="1.08" fill="#1b3a8a"/>
<circle cx="73.08" cy="202.10" r="1.08" fill="#1b3a8a"/>
<circle cx="73.98" cy="204.60" r="1.08" fill="#1b3a8a"/>
<circle cx="77.96" cy="199.90" r="1.08" fill="#1b3a8a"/>
<circle cx="78.86" cy="201.50" r="1.08" fill="#1b3a8a"/>
<circle cx="77.96" cy="203.00" r="1.08" fill="#1b3a8a"/>
<circle cx="82.84" cy="199.30" r="1.08" fill="#1b3a8a"/>
<circle cx="83.74" cy="200.50" r="1.08" fill="#1b3a8a"/>
<circle cx="82.84" cy="202.10" r="1.08" fill="#1b3a8a"/>
<circle cx="83.74" cy="205.80" r="1.08" fill="#1b3a8a"/>
<circle cx="87.72" cy="201.10" r="1.08" fill="#1b3a8a"/>
<circle cx="88.62" cy="202.10" r="1.08" fill="#1b3a8a"/>
<circle cx="87.72" cy="203.00" r="1.08" fill="#1b3a8a"/>
<circle cx="92.60" cy="199.50" r="1.08" fill="#1b3a8a"/>
<circle cx="93.50" cy="200.80" r="1.08" fill="#1b3a8a"/>
<circle cx="92.60" cy="202.70" r="1.08" fill="#1b3a8a"/>
<circle cx="93.50" cy="203.90" r="1.08" fill="#1b3a8a"/>
<circle cx="100.60" cy="198.50" r="1.08" fill="#ac0828"/>
<circle cx="101.50" cy="200.00" r="1.08" fill="#ac0828"/>
<circle cx="100.60" cy="203.40" r="1.08" fill="#ac0828"/>
<circle cx="101.50" cy="204.50" r="1.08" fill="#ac0828"/>
<circle cx="105.48" cy="198.50" r="1.08" fill="#ac0828"/>
<circle cx="106.38" cy="200.40" r="1.08" fill="#ac0828"/>
<circle cx="105.48" cy="201.90" r="1.08" fill="#ac0828"/>
<circle cx="106.38" cy="208.70" r="1.08" fill="#ac0828"/>
<circle cx="110.36" cy="200.70" r="1.08" fill="#ac0828"/>
<circle cx="111.26" cy="202.30" r="1.08" fill="#ac0828"/>
<circle cx="110.36" cy="203.40" r="1.08" fill="#ac0828"/>
<circle cx="115.24" cy="197.70" r="1.08" fill="#ac0828"/>
<circle cx="116.14" cy="199.20" r="1.08" fill="#ac0828"/>
<circle cx="115.24" cy="203.40" r="1.08" fill="#ac0828"/>
<circle cx="116.14" cy="206.40" r="1.08" fill="#ac0828"/>
<circle cx="120.12" cy="198.80" r="1.08" fill="#ac0828"/>
<circle cx="121.02" cy="200.40" r="1.08" fill="#ac0828"/>
<circle cx="120.12" cy="203.80" r="1.08" fill="#ac0828"/>
<circle cx="121.02" cy="208.30" r="1.08" fill="#ac0828"/>
<circle cx="125.00" cy="197.70" r="1.08" fill="#ac0828"/>
<circle cx="125.90" cy="201.10" r="1.08" fill="#ac0828"/>
<circle cx="125.00" cy="203.40" r="1.08" fill="#ac0828"/>
<circle cx="125.90" cy="204.90" r="1.08" fill="#ac0828"/>
<line x1="32.6" y1="188.2" x2="32.6" y2="255.8" stroke="#111" stroke-width="1.1"/>
<line x1="32.1" y1="255.3" x2="128.6" y2="255.3" stroke="#111" stroke-width="1.1"/>
<line x1="29.8" y1="255.30" x2="32.6" y2="255.30" stroke="#000" stroke-width="1.0"/>
<text x="27.0" y="257.70" font-size="5.3" fill="#333" text-anchor="end">0</text>
<line x1="31.0" y1="252.62" x2="32.6" y2="252.62" stroke="#000" stroke-width="0.9"/>
<line x1="31.0" y1="249.93" x2="32.6" y2="249.93" stroke="#000" stroke-width="0.9"/>
<line x1="31.0" y1="247.25" x2="32.6" y2="247.25" stroke="#000" stroke-width="0.9"/>
<line x1="31.0" y1="244.56" x2="32.6" y2="244.56" stroke="#000" stroke-width="0.9"/>
<line x1="31.0" y1="241.88" x2="32.6" y2="241.88" stroke="#000" stroke-width="0.9"/>
<line x1="31.0" y1="239.19" x2="32.6" y2="239.19" stroke="#000" stroke-width="0.9"/>
<line x1="31.0" y1="236.50" x2="32.6" y2="236.50" stroke="#000" stroke-width="0.9"/>
<line x1="31.0" y1="233.82" x2="32.6" y2="233.82" stroke="#000" stroke-width="0.9"/>
<line x1="31.0" y1="231.14" x2="32.6" y2="231.14" stroke="#000" stroke-width="0.9"/>
<line x1="29.8" y1="228.45" x2="32.6" y2="228.45" stroke="#000" stroke-width="1.0"/>
<text x="27.0" y="230.85" font-size="5.3" fill="#333" text-anchor="end">50</text>
<line x1="31.0" y1="225.77" x2="32.6" y2="225.77" stroke="#000" stroke-width="0.9"/>
<line x1="31.0" y1="223.08" x2="32.6" y2="223.08" stroke="#000" stroke-width="0.9"/>
<line x1="31.0" y1="220.40" x2="32.6" y2="220.40" stroke="#000" stroke-width="0.9"/>
<line x1="31.0" y1="217.71" x2="32.6" y2="217.71" stroke="#000" stroke-width="0.9"/>
<line x1="31.0" y1="215.03" x2="32.6" y2="215.03" stroke="#000" stroke-width="0.9"/>
<line x1="31.0" y1="212.34" x2="32.6" y2="212.34" stroke="#000" stroke-width="0.9"/>
<line x1="31.0" y1="209.66" x2="32.6" y2="209.66" stroke="#000" stroke-width="0.9"/>
<line x1="31.0" y1="206.97" x2="32.6" y2="206.97" stroke="#000" stroke-width="0.9"/>
<line x1="31.0" y1="204.29" x2="32.6" y2="204.29" stroke="#000" stroke-width="0.9"/>
<line x1="29.8" y1="201.60" x2="32.6" y2="201.60" stroke="#000" stroke-width="1.0"/>
<text x="27.0" y="204.00" font-size="5.3" fill="#333" text-anchor="end">100</text>
<line x1="31.0" y1="198.92" x2="32.6" y2="198.92" stroke="#000" stroke-width="0.9"/>
<line x1="31.0" y1="196.23" x2="32.6" y2="196.23" stroke="#000" stroke-width="0.9"/>
<line x1="31.0" y1="193.55" x2="32.6" y2="193.55" stroke="#000" stroke-width="0.9"/>
<line x1="31.0" y1="190.86" x2="32.6" y2="190.86" stroke="#000" stroke-width="0.9"/>
<line x1="31.0" y1="188.18" x2="32.6" y2="188.18" stroke="#000" stroke-width="0.9"/>
<text transform="translate(34.65,258.8) rotate(90)" font-size="4.3" fill="#4a4a4a" stroke="#4a4a4a" stroke-width="0.15" textLength="9.5" lengthAdjust="spacingAndGlyphs">10m</text>
<text transform="translate(39.53,258.8) rotate(90)" font-size="4.3" fill="#4a4a4a" stroke="#4a4a4a" stroke-width="0.15" textLength="6.0" lengthAdjust="spacingAndGlyphs">1h</text>
<text transform="translate(44.41,258.8) rotate(90)" font-size="4.3" fill="#4a4a4a" stroke="#4a4a4a" stroke-width="0.15" textLength="6.0" lengthAdjust="spacingAndGlyphs">2h</text>
<text transform="translate(49.29,258.8) rotate(90)" font-size="4.3" fill="#4a4a4a" stroke="#4a4a4a" stroke-width="0.15" textLength="6.0" lengthAdjust="spacingAndGlyphs">4h</text>
<text transform="translate(54.17,258.8) rotate(90)" font-size="4.3" fill="#4a4a4a" stroke="#4a4a4a" stroke-width="0.15" textLength="6.0" lengthAdjust="spacingAndGlyphs">6h</text>
<text transform="translate(59.05,258.8) rotate(90)" font-size="4.3" fill="#4a4a4a" stroke="#4a4a4a" stroke-width="0.15" textLength="9.0" lengthAdjust="spacingAndGlyphs">24h</text>
<text transform="translate(67.05,258.8) rotate(90)" font-size="4.3" fill="#4a4a4a" stroke="#4a4a4a" stroke-width="0.15" textLength="9.5" lengthAdjust="spacingAndGlyphs">10m</text>
<text transform="translate(71.93,258.8) rotate(90)" font-size="4.3" fill="#4a4a4a" stroke="#4a4a4a" stroke-width="0.15" textLength="6.0" lengthAdjust="spacingAndGlyphs">1h</text>
<text transform="translate(76.81,258.8) rotate(90)" font-size="4.3" fill="#4a4a4a" stroke="#4a4a4a" stroke-width="0.15" textLength="6.0" lengthAdjust="spacingAndGlyphs">2h</text>
<text transform="translate(81.69,258.8) rotate(90)" font-size="4.3" fill="#4a4a4a" stroke="#4a4a4a" stroke-width="0.15" textLength="6.0" lengthAdjust="spacingAndGlyphs">4h</text>
<text transform="translate(86.57,258.8) rotate(90)" font-size="4.3" fill="#4a4a4a" stroke="#4a4a4a" stroke-width="0.15" textLength="6.0" lengthAdjust="spacingAndGlyphs">6h</text>
<text transform="translate(91.45,258.8) rotate(90)" font-size="4.3" fill="#4a4a4a" stroke="#4a4a4a" stroke-width="0.15" textLength="9.0" lengthAdjust="spacingAndGlyphs">24h</text>
<text transform="translate(99.45,258.8) rotate(90)" font-size="4.3" fill="#4a4a4a" stroke="#4a4a4a" stroke-width="0.15" textLength="9.5" lengthAdjust="spacingAndGlyphs">10m</text>
<text transform="translate(104.33,258.8) rotate(90)" font-size="4.3" fill="#4a4a4a" stroke="#4a4a4a" stroke-width="0.15" textLength="6.0" lengthAdjust="spacingAndGlyphs">1h</text>
<text transform="translate(109.21,258.8) rotate(90)" font-size="4.3" fill="#4a4a4a" stroke="#4a4a4a" stroke-width="0.15" textLength="6.0" lengthAdjust="spacingAndGlyphs">2h</text>
<text transform="translate(114.09,258.8) rotate(90)" font-size="4.3" fill="#4a4a4a" stroke="#4a4a4a" stroke-width="0.15" textLength="6.0" lengthAdjust="spacingAndGlyphs">4h</text>
<text transform="translate(118.97,258.8) rotate(90)" font-size="4.3" fill="#4a4a4a" stroke="#4a4a4a" stroke-width="0.15" textLength="6.0" lengthAdjust="spacingAndGlyphs">6h</text>
<text transform="translate(123.85,258.8) rotate(90)" font-size="4.3" fill="#4a4a4a" stroke="#4a4a4a" stroke-width="0.15" textLength="9.0" lengthAdjust="spacingAndGlyphs">24h</text>
<text x="42.50" y="280.7" font-size="8.0" fill="#1a1a1a" stroke="#1a1a1a" stroke-width="0.3" textLength="8.5" lengthAdjust="spacingAndGlyphs">KEL</text>
<text x="50.90" y="278.10" font-size="5.4" font-weight="bold" fill="#333" textLength="3.1" lengthAdjust="spacingAndGlyphs">lo</text>
<text x="72.85" y="280.7" font-size="8.0" fill="#1a1a1a" stroke="#1a1a1a" stroke-width="0.3" textLength="8.5" lengthAdjust="spacingAndGlyphs">KEL</text>
<text x="81.25" y="278.10" font-size="5.4" font-weight="bold" fill="#333" textLength="6.8" lengthAdjust="spacingAndGlyphs">med</text>
<text x="107.75" y="280.7" font-size="8.0" fill="#1a1a1a" stroke="#1a1a1a" stroke-width="0.3" textLength="8.5" lengthAdjust="spacingAndGlyphs">KEL</text>
<text x="116.15" y="278.10" font-size="5.4" font-weight="bold" fill="#333" textLength="2.8" lengthAdjust="spacingAndGlyphs">hi</text>
<text x="135.2" y="176.6" font-size="10.4" font-weight="bold" fill="#000">F</text>
<text x="208.65" y="184.0" font-size="5.5" fill="#1e1e1e" stroke="#1e1e1e" stroke-width="0.12" text-anchor="middle" textLength="23.8" lengthAdjust="spacingAndGlyphs">Low αKEL</text>
<text transform="translate(141.05,221.65) rotate(-90)" font-size="7.0" fill="#222" stroke="#222" stroke-width="0.3" text-anchor="middle" textLength="46.5" lengthAdjust="spacingAndGlyphs">Percent total antigen</text>
<line x1="192.6" y1="192.2" x2="192.6" y2="268.2" stroke="#000" stroke-width="1.05" stroke-dasharray="1.8 2.305"/>
<line x1="225.0" y1="192.2" x2="225.0" y2="268.2" stroke="#000" stroke-width="1.05" stroke-dasharray="1.8 2.305"/>
<rect x="163.00" y="203.75" width="2.5" height="51.05" fill="#b2d293"/>
<rect x="167.88" y="207.80" width="2.5" height="47.00" fill="#b2d293"/>
<rect x="172.76" y="210.55" width="2.5" height="44.25" fill="#b2d293"/>
<rect x="177.64" y="213.05" width="2.5" height="41.75" fill="#b2d293"/>
<rect x="182.52" y="216.60" width="2.5" height="38.20" fill="#b2d293"/>
<rect x="187.40" y="227.35" width="2.5" height="27.45" fill="#b2d293"/>
<rect x="195.40" y="199.45" width="2.5" height="55.35" fill="#8f99c6"/>
<rect x="200.28" y="206.15" width="2.5" height="48.65" fill="#8f99c6"/>
<rect x="205.16" y="205.65" width="2.5" height="49.15" fill="#8f99c6"/>
<rect x="210.04" y="208.50" width="2.5" height="46.30" fill="#8f99c6"/>
<rect x="214.92" y="208.50" width="2.5" height="46.30" fill="#8f99c6"/>
<rect x="219.80" y="211.60" width="2.5" height="43.20" fill="#8f99c6"/>
<rect x="227.80" y="202.10" width="2.5" height="52.70" fill="#cc8a7e"/>
<rect x="232.68" y="207.20" width="2.5" height="47.60" fill="#cc8a7e"/>
<rect x="237.56" y="203.00" width="2.5" height="51.80" fill="#cc8a7e"/>
<rect x="242.44" y="204.30" width="2.5" height="50.50" fill="#cc8a7e"/>
<rect x="247.32" y="204.30" width="2.5" height="50.50" fill="#cc8a7e"/>
<rect x="252.20" y="210.60" width="2.5" height="44.20" fill="#cc8a7e"/>
<circle cx="163.80" cy="201.00" r="1.08" fill="#4a9c24"/>
<circle cx="164.70" cy="202.80" r="1.08" fill="#4a9c24"/>
<circle cx="163.80" cy="204.70" r="1.08" fill="#4a9c24"/>
<circle cx="164.70" cy="207.20" r="1.08" fill="#4a9c24"/>
<circle cx="168.68" cy="206.50" r="1.08" fill="#4a9c24"/>
<circle cx="169.58" cy="207.80" r="1.08" fill="#4a9c24"/>
<circle cx="168.68" cy="209.00" r="1.08" fill="#4a9c24"/>
<circle cx="173.56" cy="207.80" r="1.08" fill="#4a9c24"/>
<circle cx="174.46" cy="209.60" r="1.08" fill="#4a9c24"/>
<circle cx="173.56" cy="211.50" r="1.08" fill="#4a9c24"/>
<circle cx="174.46" cy="213.40" r="1.08" fill="#4a9c24"/>
<circle cx="178.44" cy="209.40" r="1.08" fill="#4a9c24"/>
<circle cx="179.34" cy="212.10" r="1.08" fill="#4a9c24"/>
<circle cx="178.44" cy="214.00" r="1.08" fill="#4a9c24"/>
<circle cx="179.34" cy="215.90" r="1.08" fill="#4a9c24"/>
<circle cx="183.32" cy="213.40" r="1.08" fill="#4a9c24"/>
<circle cx="184.22" cy="215.90" r="1.08" fill="#4a9c24"/>
<circle cx="183.32" cy="217.30" r="1.08" fill="#4a9c24"/>
<circle cx="184.22" cy="219.60" r="1.08" fill="#4a9c24"/>
<circle cx="188.20" cy="223.50" r="1.08" fill="#4a9c24"/>
<circle cx="189.10" cy="226.40" r="1.08" fill="#4a9c24"/>
<circle cx="188.20" cy="228.30" r="1.08" fill="#4a9c24"/>
<circle cx="189.10" cy="230.10" r="1.08" fill="#4a9c24"/>
<circle cx="196.20" cy="197.60" r="1.08" fill="#1b3a8a"/>
<circle cx="197.10" cy="198.70" r="1.08" fill="#1b3a8a"/>
<circle cx="196.20" cy="200.20" r="1.08" fill="#1b3a8a"/>
<circle cx="197.10" cy="201.50" r="1.08" fill="#1b3a8a"/>
<circle cx="201.08" cy="203.80" r="1.08" fill="#1b3a8a"/>
<circle cx="201.98" cy="205.40" r="1.08" fill="#1b3a8a"/>
<circle cx="201.08" cy="206.90" r="1.08" fill="#1b3a8a"/>
<circle cx="201.98" cy="209.00" r="1.08" fill="#1b3a8a"/>
<circle cx="205.96" cy="203.50" r="1.08" fill="#1b3a8a"/>
<circle cx="206.86" cy="204.90" r="1.08" fill="#1b3a8a"/>
<circle cx="205.96" cy="206.40" r="1.08" fill="#1b3a8a"/>
<circle cx="206.86" cy="208.30" r="1.08" fill="#1b3a8a"/>
<circle cx="210.84" cy="206.90" r="1.08" fill="#1b3a8a"/>
<circle cx="211.74" cy="208.50" r="1.08" fill="#1b3a8a"/>
<circle cx="210.84" cy="210.60" r="1.08" fill="#1b3a8a"/>
<circle cx="215.72" cy="206.90" r="1.08" fill="#1b3a8a"/>
<circle cx="216.62" cy="208.50" r="1.08" fill="#1b3a8a"/>
<circle cx="215.72" cy="209.50" r="1.08" fill="#1b3a8a"/>
<circle cx="220.60" cy="206.20" r="1.08" fill="#1b3a8a"/>
<circle cx="221.50" cy="208.00" r="1.08" fill="#1b3a8a"/>
<circle cx="220.60" cy="211.60" r="1.08" fill="#1b3a8a"/>
<circle cx="221.50" cy="213.20" r="1.08" fill="#1b3a8a"/>
<circle cx="220.60" cy="220.90" r="1.08" fill="#1b3a8a"/>
<circle cx="228.60" cy="196.70" r="1.08" fill="#ac0828"/>
<circle cx="229.50" cy="198.50" r="1.08" fill="#ac0828"/>
<circle cx="228.60" cy="202.10" r="1.08" fill="#ac0828"/>
<circle cx="229.50" cy="205.20" r="1.08" fill="#ac0828"/>
<circle cx="228.60" cy="207.00" r="1.08" fill="#ac0828"/>
<circle cx="233.48" cy="205.20" r="1.08" fill="#ac0828"/>
<circle cx="234.38" cy="206.50" r="1.08" fill="#ac0828"/>
<circle cx="233.48" cy="207.90" r="1.08" fill="#ac0828"/>
<circle cx="234.38" cy="211.90" r="1.08" fill="#ac0828"/>
<circle cx="238.36" cy="198.90" r="1.08" fill="#ac0828"/>
<circle cx="239.26" cy="200.70" r="1.08" fill="#ac0828"/>
<circle cx="238.36" cy="203.00" r="1.08" fill="#ac0828"/>
<circle cx="239.26" cy="206.50" r="1.08" fill="#ac0828"/>
<circle cx="238.36" cy="208.80" r="1.08" fill="#ac0828"/>
<circle cx="243.24" cy="200.70" r="1.08" fill="#ac0828"/>
<circle cx="244.14" cy="203.00" r="1.08" fill="#ac0828"/>
<circle cx="243.24" cy="204.30" r="1.08" fill="#ac0828"/>
<circle cx="244.14" cy="206.50" r="1.08" fill="#ac0828"/>
<circle cx="243.24" cy="210.10" r="1.08" fill="#ac0828"/>
<circle cx="248.12" cy="201.60" r="1.08" fill="#ac0828"/>
<circle cx="249.02" cy="203.40" r="1.08" fill="#ac0828"/>
<circle cx="248.12" cy="205.20" r="1.08" fill="#ac0828"/>
<circle cx="249.02" cy="206.10" r="1.08" fill="#ac0828"/>
<circle cx="253.00" cy="201.30" r="1.08" fill="#ac0828"/>
<circle cx="253.90" cy="207.40" r="1.08" fill="#ac0828"/>
<circle cx="253.00" cy="210.60" r="1.08" fill="#ac0828"/>
<circle cx="253.90" cy="211.50" r="1.08" fill="#ac0828"/>
<circle cx="253.00" cy="214.60" r="1.08" fill="#ac0828"/>
<line x1="160.6" y1="188.2" x2="160.6" y2="255.8" stroke="#111" stroke-width="1.1"/>
<line x1="160.1" y1="255.3" x2="256.6" y2="255.3" stroke="#111" stroke-width="1.1"/>
<line x1="157.79999999999998" y1="255.30" x2="160.6" y2="255.30" stroke="#000" stroke-width="1.0"/>
<text x="155.0" y="257.70" font-size="5.3" fill="#333" text-anchor="end">0</text>
<line x1="159.0" y1="252.62" x2="160.6" y2="252.62" stroke="#000" stroke-width="0.9"/>
<line x1="159.0" y1="249.93" x2="160.6" y2="249.93" stroke="#000" stroke-width="0.9"/>
<line x1="159.0" y1="247.25" x2="160.6" y2="247.25" stroke="#000" stroke-width="0.9"/>
<line x1="159.0" y1="244.56" x2="160.6" y2="244.56" stroke="#000" stroke-width="0.9"/>
<line x1="159.0" y1="241.88" x2="160.6" y2="241.88" stroke="#000" stroke-width="0.9"/>
<line x1="159.0" y1="239.19" x2="160.6" y2="239.19" stroke="#000" stroke-width="0.9"/>
<line x1="159.0" y1="236.50" x2="160.6" y2="236.50" stroke="#000" stroke-width="0.9"/>
<line x1="159.0" y1="233.82" x2="160.6" y2="233.82" stroke="#000" stroke-width="0.9"/>
<line x1="159.0" y1="231.14" x2="160.6" y2="231.14" stroke="#000" stroke-width="0.9"/>
<line x1="157.79999999999998" y1="228.45" x2="160.6" y2="228.45" stroke="#000" stroke-width="1.0"/>
<text x="155.0" y="230.85" font-size="5.3" fill="#333" text-anchor="end">50</text>
<line x1="159.0" y1="225.77" x2="160.6" y2="225.77" stroke="#000" stroke-width="0.9"/>
<line x1="159.0" y1="223.08" x2="160.6" y2="223.08" stroke="#000" stroke-width="0.9"/>
<line x1="159.0" y1="220.40" x2="160.6" y2="220.40" stroke="#000" stroke-width="0.9"/>
<line x1="159.0" y1="217.71" x2="160.6" y2="217.71" stroke="#000" stroke-width="0.9"/>
<line x1="159.0" y1="215.03" x2="160.6" y2="215.03" stroke="#000" stroke-width="0.9"/>
<line x1="159.0" y1="212.34" x2="160.6" y2="212.34" stroke="#000" stroke-width="0.9"/>
<line x1="159.0" y1="209.66" x2="160.6" y2="209.66" stroke="#000" stroke-width="0.9"/>
<line x1="159.0" y1="206.97" x2="160.6" y2="206.97" stroke="#000" stroke-width="0.9"/>
<line x1="159.0" y1="204.29" x2="160.6" y2="204.29" stroke="#000" stroke-width="0.9"/>
<line x1="157.79999999999998" y1="201.60" x2="160.6" y2="201.60" stroke="#000" stroke-width="1.0"/>
<text x="155.0" y="204.00" font-size="5.3" fill="#333" text-anchor="end">100</text>
<line x1="159.0" y1="198.92" x2="160.6" y2="198.92" stroke="#000" stroke-width="0.9"/>
<line x1="159.0" y1="196.23" x2="160.6" y2="196.23" stroke="#000" stroke-width="0.9"/>
<line x1="159.0" y1="193.55" x2="160.6" y2="193.55" stroke="#000" stroke-width="0.9"/>
<line x1="159.0" y1="190.86" x2="160.6" y2="190.86" stroke="#000" stroke-width="0.9"/>
<line x1="159.0" y1="188.18" x2="160.6" y2="188.18" stroke="#000" stroke-width="0.9"/>
<text transform="translate(162.65,258.8) rotate(90)" font-size="4.3" fill="#4a4a4a" stroke="#4a4a4a" stroke-width="0.15" textLength="9.5" lengthAdjust="spacingAndGlyphs">10m</text>
<text transform="translate(167.53,258.8) rotate(90)" font-size="4.3" fill="#4a4a4a" stroke="#4a4a4a" stroke-width="0.15" textLength="6.0" lengthAdjust="spacingAndGlyphs">1h</text>
<text transform="translate(172.41,258.8) rotate(90)" font-size="4.3" fill="#4a4a4a" stroke="#4a4a4a" stroke-width="0.15" textLength="6.0" lengthAdjust="spacingAndGlyphs">2h</text>
<text transform="translate(177.29,258.8) rotate(90)" font-size="4.3" fill="#4a4a4a" stroke="#4a4a4a" stroke-width="0.15" textLength="6.0" lengthAdjust="spacingAndGlyphs">4h</text>
<text transform="translate(182.17,258.8) rotate(90)" font-size="4.3" fill="#4a4a4a" stroke="#4a4a4a" stroke-width="0.15" textLength="6.0" lengthAdjust="spacingAndGlyphs">6h</text>
<text transform="translate(187.05,258.8) rotate(90)" font-size="4.3" fill="#4a4a4a" stroke="#4a4a4a" stroke-width="0.15" textLength="9.0" lengthAdjust="spacingAndGlyphs">24h</text>
<text transform="translate(195.05,258.8) rotate(90)" font-size="4.3" fill="#4a4a4a" stroke="#4a4a4a" stroke-width="0.15" textLength="9.5" lengthAdjust="spacingAndGlyphs">10m</text>
<text transform="translate(199.93,258.8) rotate(90)" font-size="4.3" fill="#4a4a4a" stroke="#4a4a4a" stroke-width="0.15" textLength="6.0" lengthAdjust="spacingAndGlyphs">1h</text>
<text transform="translate(204.81,258.8) rotate(90)" font-size="4.3" fill="#4a4a4a" stroke="#4a4a4a" stroke-width="0.15" textLength="6.0" lengthAdjust="spacingAndGlyphs">2h</text>
<text transform="translate(209.69,258.8) rotate(90)" font-size="4.3" fill="#4a4a4a" stroke="#4a4a4a" stroke-width="0.15" textLength="6.0" lengthAdjust="spacingAndGlyphs">4h</text>
<text transform="translate(214.57,258.8) rotate(90)" font-size="4.3" fill="#4a4a4a" stroke="#4a4a4a" stroke-width="0.15" textLength="6.0" lengthAdjust="spacingAndGlyphs">6h</text>
<text transform="translate(219.45,258.8) rotate(90)" font-size="4.3" fill="#4a4a4a" stroke="#4a4a4a" stroke-width="0.15" textLength="9.0" lengthAdjust="spacingAndGlyphs">24h</text>
<text transform="translate(227.45,258.8) rotate(90)" font-size="4.3" fill="#4a4a4a" stroke="#4a4a4a" stroke-width="0.15" textLength="9.5" lengthAdjust="spacingAndGlyphs">10m</text>
<text transform="translate(232.33,258.8) rotate(90)" font-size="4.3" fill="#4a4a4a" stroke="#4a4a4a" stroke-width="0.15" textLength="6.0" lengthAdjust="spacingAndGlyphs">1h</text>
<text transform="translate(237.21,258.8) rotate(90)" font-size="4.3" fill="#4a4a4a" stroke="#4a4a4a" stroke-width="0.15" textLength="6.0" lengthAdjust="spacingAndGlyphs">2h</text>
<text transform="translate(242.09,258.8) rotate(90)" font-size="4.3" fill="#4a4a4a" stroke="#4a4a4a" stroke-width="0.15" textLength="6.0" lengthAdjust="spacingAndGlyphs">4h</text>
<text transform="translate(246.97,258.8) rotate(90)" font-size="4.3" fill="#4a4a4a" stroke="#4a4a4a" stroke-width="0.15" textLength="6.0" lengthAdjust="spacingAndGlyphs">6h</text>
<text transform="translate(251.85,258.8) rotate(90)" font-size="4.3" fill="#4a4a4a" stroke="#4a4a4a" stroke-width="0.15" textLength="9.0" lengthAdjust="spacingAndGlyphs">24h</text>
<text x="170.50" y="280.7" font-size="8.0" fill="#1a1a1a" stroke="#1a1a1a" stroke-width="0.3" textLength="8.5" lengthAdjust="spacingAndGlyphs">KEL</text>
<text x="178.90" y="278.10" font-size="5.4" font-weight="bold" fill="#333" textLength="3.1" lengthAdjust="spacingAndGlyphs">lo</text>
<text x="200.85" y="280.7" font-size="8.0" fill="#1a1a1a" stroke="#1a1a1a" stroke-width="0.3" textLength="8.5" lengthAdjust="spacingAndGlyphs">KEL</text>
<text x="209.25" y="278.10" font-size="5.4" font-weight="bold" fill="#333" textLength="6.8" lengthAdjust="spacingAndGlyphs">med</text>
<text x="235.75" y="280.7" font-size="8.0" fill="#1a1a1a" stroke="#1a1a1a" stroke-width="0.3" textLength="8.5" lengthAdjust="spacingAndGlyphs">KEL</text>
<text x="244.15" y="278.10" font-size="5.4" font-weight="bold" fill="#333" textLength="2.8" lengthAdjust="spacingAndGlyphs">hi</text>
<line x1="167.2" y1="202.8" x2="170.9" y2="202.8" stroke="#6a6a6a" stroke-width="1.6"/>
<text x="169.05" y="202.70" font-size="4.4" fill="#3a3a3a" stroke="#3a3a3a" stroke-width="0.1" text-anchor="middle" textLength="3.50" lengthAdjust="spacingAndGlyphs">**</text>
<line x1="173.1" y1="202.7" x2="190.3" y2="202.7" stroke="#6a6a6a" stroke-width="1.6"/>
<text x="181.70" y="202.60" font-size="4.4" fill="#3a3a3a" stroke="#3a3a3a" stroke-width="0.1" text-anchor="middle" textLength="7.00" lengthAdjust="spacingAndGlyphs">****</text>
<line x1="199.2" y1="198.3" x2="223.8" y2="198.3" stroke="#6a6a6a" stroke-width="1.6"/>
<text x="211.50" y="198.20" font-size="4.4" fill="#3a3a3a" stroke="#3a3a3a" stroke-width="0.1" text-anchor="middle" textLength="7.00" lengthAdjust="spacingAndGlyphs">****</text>
<text x="263.2" y="176.6" font-size="10.4" font-weight="bold" fill="#000">G</text>
<text x="336.65" y="184.0" font-size="5.5" fill="#1e1e1e" stroke="#1e1e1e" stroke-width="0.12" text-anchor="middle" textLength="24.2" lengthAdjust="spacingAndGlyphs">Med αKEL</text>
<text transform="translate(269.05,221.65) rotate(-90)" font-size="7.0" fill="#222" stroke="#222" stroke-width="0.3" text-anchor="middle" textLength="46.5" lengthAdjust="spacingAndGlyphs">Percent total antigen</text>
<line x1="320.6" y1="192.2" x2="320.6" y2="268.2" stroke="#000" stroke-width="1.05" stroke-dasharray="1.8 2.305"/>
<line x1="353.0" y1="192.2" x2="353.0" y2="268.2" stroke="#000" stroke-width="1.05" stroke-dasharray="1.8 2.305"/>
<rect x="291.00" y="207.30" width="2.5" height="47.50" fill="#b2d293"/>
<rect x="295.88" y="226.45" width="2.5" height="28.35" fill="#b2d293"/>
<rect x="300.76" y="231.80" width="2.5" height="23.00" fill="#b2d293"/>
<rect x="305.64" y="236.80" width="2.5" height="18.00" fill="#b2d293"/>
<rect x="310.52" y="238.80" width="2.5" height="16.00" fill="#b2d293"/>
<rect x="315.40" y="244.70" width="2.5" height="10.10" fill="#b2d293"/>
<rect x="323.40" y="200.50" width="2.5" height="54.30" fill="#8f99c6"/>
<rect x="328.28" y="216.60" width="2.5" height="38.20" fill="#8f99c6"/>
<rect x="333.16" y="222.90" width="2.5" height="31.90" fill="#8f99c6"/>
<rect x="338.04" y="227.40" width="2.5" height="27.40" fill="#8f99c6"/>
<rect x="342.92" y="230.00" width="2.5" height="24.80" fill="#8f99c6"/>
<rect x="347.80" y="242.20" width="2.5" height="12.60" fill="#8f99c6"/>
<rect x="355.80" y="206.25" width="2.5" height="48.55" fill="#cc8a7e"/>
<rect x="360.68" y="214.90" width="2.5" height="39.90" fill="#cc8a7e"/>
<rect x="365.56" y="218.10" width="2.5" height="36.70" fill="#cc8a7e"/>
<rect x="370.44" y="226.10" width="2.5" height="28.70" fill="#cc8a7e"/>
<rect x="375.32" y="229.25" width="2.5" height="25.55" fill="#cc8a7e"/>
<rect x="380.20" y="242.80" width="2.5" height="12.00" fill="#cc8a7e"/>
<circle cx="291.80" cy="205.30" r="1.08" fill="#4a9c24"/>
<circle cx="292.70" cy="207.30" r="1.08" fill="#4a9c24"/>
<circle cx="291.80" cy="209.00" r="1.08" fill="#4a9c24"/>
<circle cx="296.68" cy="222.70" r="1.08" fill="#4a9c24"/>
<circle cx="297.58" cy="225.20" r="1.08" fill="#4a9c24"/>
<circle cx="296.68" cy="227.70" r="1.08" fill="#4a9c24"/>
<circle cx="297.58" cy="229.30" r="1.08" fill="#4a9c24"/>
<circle cx="301.56" cy="229.30" r="1.08" fill="#4a9c24"/>
<circle cx="302.46" cy="231.80" r="1.08" fill="#4a9c24"/>
<circle cx="301.56" cy="234.30" r="1.08" fill="#4a9c24"/>
<circle cx="306.44" cy="234.30" r="1.08" fill="#4a9c24"/>
<circle cx="307.34" cy="236.80" r="1.08" fill="#4a9c24"/>
<circle cx="306.44" cy="238.80" r="1.08" fill="#4a9c24"/>
<circle cx="311.32" cy="236.40" r="1.08" fill="#4a9c24"/>
<circle cx="312.22" cy="238.80" r="1.08" fill="#4a9c24"/>
<circle cx="311.32" cy="240.90" r="1.08" fill="#4a9c24"/>
<circle cx="316.20" cy="242.60" r="1.08" fill="#4a9c24"/>
<circle cx="317.10" cy="244.70" r="1.08" fill="#4a9c24"/>
<circle cx="316.20" cy="246.70" r="1.08" fill="#4a9c24"/>
<circle cx="324.20" cy="198.70" r="1.08" fill="#1b3a8a"/>
<circle cx="325.10" cy="200.50" r="1.08" fill="#1b3a8a"/>
<circle cx="324.20" cy="202.30" r="1.08" fill="#1b3a8a"/>
<circle cx="329.08" cy="213.00" r="1.08" fill="#1b3a8a"/>
<circle cx="329.98" cy="214.80" r="1.08" fill="#1b3a8a"/>
<circle cx="329.08" cy="216.60" r="1.08" fill="#1b3a8a"/>
<circle cx="329.98" cy="219.30" r="1.08" fill="#1b3a8a"/>
<circle cx="329.08" cy="222.00" r="1.08" fill="#1b3a8a"/>
<circle cx="333.96" cy="217.50" r="1.08" fill="#1b3a8a"/>
<circle cx="334.86" cy="220.20" r="1.08" fill="#1b3a8a"/>
<circle cx="333.96" cy="222.90" r="1.08" fill="#1b3a8a"/>
<circle cx="334.86" cy="225.60" r="1.08" fill="#1b3a8a"/>
<circle cx="333.96" cy="228.30" r="1.08" fill="#1b3a8a"/>
<circle cx="338.84" cy="219.30" r="1.08" fill="#1b3a8a"/>
<circle cx="339.74" cy="223.80" r="1.08" fill="#1b3a8a"/>
<circle cx="338.84" cy="227.40" r="1.08" fill="#1b3a8a"/>
<circle cx="339.74" cy="230.00" r="1.08" fill="#1b3a8a"/>
<circle cx="338.84" cy="233.60" r="1.08" fill="#1b3a8a"/>
<circle cx="343.72" cy="221.10" r="1.08" fill="#1b3a8a"/>
<circle cx="344.62" cy="226.50" r="1.08" fill="#1b3a8a"/>
<circle cx="343.72" cy="230.00" r="1.08" fill="#1b3a8a"/>
<circle cx="344.62" cy="233.60" r="1.08" fill="#1b3a8a"/>
<circle cx="343.72" cy="236.30" r="1.08" fill="#1b3a8a"/>
<circle cx="348.60" cy="239.90" r="1.08" fill="#1b3a8a"/>
<circle cx="349.50" cy="242.20" r="1.08" fill="#1b3a8a"/>
<circle cx="348.60" cy="244.40" r="1.08" fill="#1b3a8a"/>
<circle cx="356.60" cy="203.40" r="1.08" fill="#ac0828"/>
<circle cx="357.50" cy="205.30" r="1.08" fill="#ac0828"/>
<circle cx="356.60" cy="207.20" r="1.08" fill="#ac0828"/>
<circle cx="357.50" cy="208.70" r="1.08" fill="#ac0828"/>
<circle cx="361.48" cy="210.90" r="1.08" fill="#ac0828"/>
<circle cx="362.38" cy="213.70" r="1.08" fill="#ac0828"/>
<circle cx="361.48" cy="216.10" r="1.08" fill="#ac0828"/>
<circle cx="362.38" cy="218.30" r="1.08" fill="#ac0828"/>
<circle cx="366.36" cy="214.20" r="1.08" fill="#ac0828"/>
<circle cx="367.26" cy="216.90" r="1.08" fill="#ac0828"/>
<circle cx="366.36" cy="219.30" r="1.08" fill="#ac0828"/>
<circle cx="367.26" cy="221.10" r="1.08" fill="#ac0828"/>
<circle cx="371.24" cy="222.40" r="1.08" fill="#ac0828"/>
<circle cx="372.14" cy="224.90" r="1.08" fill="#ac0828"/>
<circle cx="371.24" cy="227.30" r="1.08" fill="#ac0828"/>
<circle cx="372.14" cy="229.10" r="1.08" fill="#ac0828"/>
<circle cx="376.12" cy="225.40" r="1.08" fill="#ac0828"/>
<circle cx="377.02" cy="228.00" r="1.08" fill="#ac0828"/>
<circle cx="376.12" cy="230.50" r="1.08" fill="#ac0828"/>
<circle cx="377.02" cy="232.30" r="1.08" fill="#ac0828"/>
<circle cx="381.00" cy="239.20" r="1.08" fill="#ac0828"/>
<circle cx="381.90" cy="241.60" r="1.08" fill="#ac0828"/>
<circle cx="381.00" cy="244.00" r="1.08" fill="#ac0828"/>
<circle cx="381.90" cy="245.90" r="1.08" fill="#ac0828"/>
<line x1="288.6" y1="188.2" x2="288.6" y2="255.8" stroke="#111" stroke-width="1.1"/>
<line x1="288.1" y1="255.3" x2="384.6" y2="255.3" stroke="#111" stroke-width="1.1"/>
<line x1="285.8" y1="255.30" x2="288.6" y2="255.30" stroke="#000" stroke-width="1.0"/>
<text x="283.0" y="257.70" font-size="5.3" fill="#333" text-anchor="end">0</text>
<line x1="287.0" y1="252.62" x2="288.6" y2="252.62" stroke="#000" stroke-width="0.9"/>
<line x1="287.0" y1="249.93" x2="288.6" y2="249.93" stroke="#000" stroke-width="0.9"/>
<line x1="287.0" y1="247.25" x2="288.6" y2="247.25" stroke="#000" stroke-width="0.9"/>
<line x1="287.0" y1="244.56" x2="288.6" y2="244.56" stroke="#000" stroke-width="0.9"/>
<line x1="287.0" y1="241.88" x2="288.6" y2="241.88" stroke="#000" stroke-width="0.9"/>
<line x1="287.0" y1="239.19" x2="288.6" y2="239.19" stroke="#000" stroke-width="0.9"/>
<line x1="287.0" y1="236.50" x2="288.6" y2="236.50" stroke="#000" stroke-width="0.9"/>
<line x1="287.0" y1="233.82" x2="288.6" y2="233.82" stroke="#000" stroke-width="0.9"/>
<line x1="287.0" y1="231.14" x2="288.6" y2="231.14" stroke="#000" stroke-width="0.9"/>
<line x1="285.8" y1="228.45" x2="288.6" y2="228.45" stroke="#000" stroke-width="1.0"/>
<text x="283.0" y="230.85" font-size="5.3" fill="#333" text-anchor="end">50</text>
<line x1="287.0" y1="225.77" x2="288.6" y2="225.77" stroke="#000" stroke-width="0.9"/>
<line x1="287.0" y1="223.08" x2="288.6" y2="223.08" stroke="#000" stroke-width="0.9"/>
<line x1="287.0" y1="220.40" x2="288.6" y2="220.40" stroke="#000" stroke-width="0.9"/>
<line x1="287.0" y1="217.71" x2="288.6" y2="217.71" stroke="#000" stroke-width="0.9"/>
<line x1="287.0" y1="215.03" x2="288.6" y2="215.03" stroke="#000" stroke-width="0.9"/>
<line x1="287.0" y1="212.34" x2="288.6" y2="212.34" stroke="#000" stroke-width="0.9"/>
<line x1="287.0" y1="209.66" x2="288.6" y2="209.66" stroke="#000" stroke-width="0.9"/>
<line x1="287.0" y1="206.97" x2="288.6" y2="206.97" stroke="#000" stroke-width="0.9"/>
<line x1="287.0" y1="204.29" x2="288.6" y2="204.29" stroke="#000" stroke-width="0.9"/>
<line x1="285.8" y1="201.60" x2="288.6" y2="201.60" stroke="#000" stroke-width="1.0"/>
<text x="283.0" y="204.00" font-size="5.3" fill="#333" text-anchor="end">100</text>
<line x1="287.0" y1="198.92" x2="288.6" y2="198.92" stroke="#000" stroke-width="0.9"/>
<line x1="287.0" y1="196.23" x2="288.6" y2="196.23" stroke="#000" stroke-width="0.9"/>
<line x1="287.0" y1="193.55" x2="288.6" y2="193.55" stroke="#000" stroke-width="0.9"/>
<line x1="287.0" y1="190.86" x2="288.6" y2="190.86" stroke="#000" stroke-width="0.9"/>
<line x1="287.0" y1="188.18" x2="288.6" y2="188.18" stroke="#000" stroke-width="0.9"/>
<text transform="translate(290.65,258.8) rotate(90)" font-size="4.3" fill="#4a4a4a" stroke="#4a4a4a" stroke-width="0.15" textLength="9.5" lengthAdjust="spacingAndGlyphs">10m</text>
<text transform="translate(295.53,258.8) rotate(90)" font-size="4.3" fill="#4a4a4a" stroke="#4a4a4a" stroke-width="0.15" textLength="6.0" lengthAdjust="spacingAndGlyphs">1h</text>
<text transform="translate(300.41,258.8) rotate(90)" font-size="4.3" fill="#4a4a4a" stroke="#4a4a4a" stroke-width="0.15" textLength="6.0" lengthAdjust="spacingAndGlyphs">2h</text>
<text transform="translate(305.29,258.8) rotate(90)" font-size="4.3" fill="#4a4a4a" stroke="#4a4a4a" stroke-width="0.15" textLength="6.0" lengthAdjust="spacingAndGlyphs">4h</text>
<text transform="translate(310.17,258.8) rotate(90)" font-size="4.3" fill="#4a4a4a" stroke="#4a4a4a" stroke-width="0.15" textLength="6.0" lengthAdjust="spacingAndGlyphs">6h</text>
<text transform="translate(315.05,258.8) rotate(90)" font-size="4.3" fill="#4a4a4a" stroke="#4a4a4a" stroke-width="0.15" textLength="9.0" lengthAdjust="spacingAndGlyphs">24h</text>
<text transform="translate(323.05,258.8) rotate(90)" font-size="4.3" fill="#4a4a4a" stroke="#4a4a4a" stroke-width="0.15" textLength="9.5" lengthAdjust="spacingAndGlyphs">10m</text>
<text transform="translate(327.93,258.8) rotate(90)" font-size="4.3" fill="#4a4a4a" stroke="#4a4a4a" stroke-width="0.15" textLength="6.0" lengthAdjust="spacingAndGlyphs">1h</text>
<text transform="translate(332.81,258.8) rotate(90)" font-size="4.3" fill="#4a4a4a" stroke="#4a4a4a" stroke-width="0.15" textLength="6.0" lengthAdjust="spacingAndGlyphs">2h</text>
<text transform="translate(337.69,258.8) rotate(90)" font-size="4.3" fill="#4a4a4a" stroke="#4a4a4a" stroke-width="0.15" textLength="6.0" lengthAdjust="spacingAndGlyphs">4h</text>
<text transform="translate(342.57,258.8) rotate(90)" font-size="4.3" fill="#4a4a4a" stroke="#4a4a4a" stroke-width="0.15" textLength="6.0" lengthAdjust="spacingAndGlyphs">6h</text>
<text transform="translate(347.45,258.8) rotate(90)" font-size="4.3" fill="#4a4a4a" stroke="#4a4a4a" stroke-width="0.15" textLength="9.0" lengthAdjust="spacingAndGlyphs">24h</text>
<text transform="translate(355.45,258.8) rotate(90)" font-size="4.3" fill="#4a4a4a" stroke="#4a4a4a" stroke-width="0.15" textLength="9.5" lengthAdjust="spacingAndGlyphs">10m</text>
<text transform="translate(360.33,258.8) rotate(90)" font-size="4.3" fill="#4a4a4a" stroke="#4a4a4a" stroke-width="0.15" textLength="6.0" lengthAdjust="spacingAndGlyphs">1h</text>
<text transform="translate(365.21,258.8) rotate(90)" font-size="4.3" fill="#4a4a4a" stroke="#4a4a4a" stroke-width="0.15" textLength="6.0" lengthAdjust="spacingAndGlyphs">2h</text>
<text transform="translate(370.09,258.8) rotate(90)" font-size="4.3" fill="#4a4a4a" stroke="#4a4a4a" stroke-width="0.15" textLength="6.0" lengthAdjust="spacingAndGlyphs">4h</text>
<text transform="translate(374.97,258.8) rotate(90)" font-size="4.3" fill="#4a4a4a" stroke="#4a4a4a" stroke-width="0.15" textLength="6.0" lengthAdjust="spacingAndGlyphs">6h</text>
<text transform="translate(379.85,258.8) rotate(90)" font-size="4.3" fill="#4a4a4a" stroke="#4a4a4a" stroke-width="0.15" textLength="9.0" lengthAdjust="spacingAndGlyphs">24h</text>
<text x="298.50" y="280.7" font-size="8.0" fill="#1a1a1a" stroke="#1a1a1a" stroke-width="0.3" textLength="8.5" lengthAdjust="spacingAndGlyphs">KEL</text>
<text x="306.90" y="278.10" font-size="5.4" font-weight="bold" fill="#333" textLength="3.1" lengthAdjust="spacingAndGlyphs">lo</text>
<text x="328.85" y="280.7" font-size="8.0" fill="#1a1a1a" stroke="#1a1a1a" stroke-width="0.3" textLength="8.5" lengthAdjust="spacingAndGlyphs">KEL</text>
<text x="337.25" y="278.10" font-size="5.4" font-weight="bold" fill="#333" textLength="6.8" lengthAdjust="spacingAndGlyphs">med</text>
<text x="363.75" y="280.7" font-size="8.0" fill="#1a1a1a" stroke="#1a1a1a" stroke-width="0.3" textLength="8.5" lengthAdjust="spacingAndGlyphs">KEL</text>
<text x="372.15" y="278.10" font-size="5.4" font-weight="bold" fill="#333" textLength="2.8" lengthAdjust="spacingAndGlyphs">hi</text>
<line x1="295.3" y1="219.9" x2="319.6" y2="219.9" stroke="#6a6a6a" stroke-width="1.6"/>
<text x="307.45" y="219.80" font-size="4.4" fill="#3a3a3a" stroke="#3a3a3a" stroke-width="0.1" text-anchor="middle" textLength="7.00" lengthAdjust="spacingAndGlyphs">****</text>
<line x1="327.3" y1="210.3" x2="352.4" y2="210.3" stroke="#6a6a6a" stroke-width="1.6"/>
<text x="339.85" y="210.20" font-size="4.4" fill="#3a3a3a" stroke="#3a3a3a" stroke-width="0.1" text-anchor="middle" textLength="7.00" lengthAdjust="spacingAndGlyphs">****</text>
<line x1="360.4" y1="207.5" x2="384.7" y2="207.5" stroke="#6a6a6a" stroke-width="1.6"/>
<text x="372.55" y="207.40" font-size="4.4" fill="#3a3a3a" stroke="#3a3a3a" stroke-width="0.1" text-anchor="middle" textLength="7.00" lengthAdjust="spacingAndGlyphs">****</text>
<text x="391.2" y="176.6" font-size="10.4" font-weight="bold" fill="#000">H</text>
<text x="464.65" y="184.0" font-size="5.5" fill="#1e1e1e" stroke="#1e1e1e" stroke-width="0.12" text-anchor="middle" textLength="19.0" lengthAdjust="spacingAndGlyphs">Hi αKEL</text>
<text transform="translate(397.05,221.65) rotate(-90)" font-size="7.0" fill="#222" stroke="#222" stroke-width="0.3" text-anchor="middle" textLength="46.5" lengthAdjust="spacingAndGlyphs">Percent total antigen</text>
<line x1="448.6" y1="192.2" x2="448.6" y2="268.2" stroke="#000" stroke-width="1.05" stroke-dasharray="1.8 2.305"/>
<line x1="481.0" y1="192.2" x2="481.0" y2="268.2" stroke="#000" stroke-width="1.05" stroke-dasharray="1.8 2.305"/>
<rect x="419.00" y="216.70" width="2.5" height="38.10" fill="#b2d293"/>
<rect x="423.88" y="239.70" width="2.5" height="15.10" fill="#b2d293"/>
<rect x="428.76" y="242.60" width="2.5" height="12.20" fill="#b2d293"/>
<rect x="433.64" y="244.80" width="2.5" height="10.00" fill="#b2d293"/>
<rect x="438.52" y="246.10" width="2.5" height="8.70" fill="#b2d293"/>
<rect x="443.40" y="249.30" width="2.5" height="5.50" fill="#b2d293"/>
<rect x="451.40" y="213.20" width="2.5" height="41.60" fill="#8f99c6"/>
<rect x="456.28" y="238.30" width="2.5" height="16.50" fill="#8f99c6"/>
<rect x="461.16" y="243.00" width="2.5" height="11.80" fill="#8f99c6"/>
<rect x="466.04" y="245.80" width="2.5" height="9.00" fill="#8f99c6"/>
<rect x="470.92" y="246.70" width="2.5" height="8.10" fill="#8f99c6"/>
<rect x="475.80" y="249.50" width="2.5" height="5.30" fill="#8f99c6"/>
<rect x="483.80" y="218.30" width="2.5" height="36.50" fill="#cc8a7e"/>
<rect x="488.68" y="239.80" width="2.5" height="15.00" fill="#cc8a7e"/>
<rect x="493.56" y="243.10" width="2.5" height="11.70" fill="#cc8a7e"/>
<rect x="498.44" y="246.90" width="2.5" height="7.90" fill="#cc8a7e"/>
<rect x="503.32" y="247.70" width="2.5" height="7.10" fill="#cc8a7e"/>
<rect x="508.20" y="250.20" width="2.5" height="4.60" fill="#cc8a7e"/>
<circle cx="419.80" cy="213.60" r="1.08" fill="#4a9c24"/>
<circle cx="420.70" cy="215.90" r="1.08" fill="#4a9c24"/>
<circle cx="419.80" cy="217.50" r="1.08" fill="#4a9c24"/>
<circle cx="420.70" cy="220.40" r="1.08" fill="#4a9c24"/>
<circle cx="424.68" cy="237.40" r="1.08" fill="#4a9c24"/>
<circle cx="425.58" cy="239.70" r="1.08" fill="#4a9c24"/>
<circle cx="424.68" cy="241.70" r="1.08" fill="#4a9c24"/>
<circle cx="429.56" cy="240.50" r="1.08" fill="#4a9c24"/>
<circle cx="430.46" cy="242.60" r="1.08" fill="#4a9c24"/>
<circle cx="429.56" cy="244.50" r="1.08" fill="#4a9c24"/>
<circle cx="434.44" cy="243.20" r="1.08" fill="#4a9c24"/>
<circle cx="435.34" cy="244.80" r="1.08" fill="#4a9c24"/>
<circle cx="434.44" cy="246.90" r="1.08" fill="#4a9c24"/>
<circle cx="439.32" cy="244.50" r="1.08" fill="#4a9c24"/>
<circle cx="440.22" cy="246.10" r="1.08" fill="#4a9c24"/>
<circle cx="439.32" cy="247.70" r="1.08" fill="#4a9c24"/>
<circle cx="444.20" cy="247.70" r="1.08" fill="#4a9c24"/>
<circle cx="445.10" cy="249.30" r="1.08" fill="#4a9c24"/>
<circle cx="444.20" cy="250.50" r="1.08" fill="#4a9c24"/>
<circle cx="452.20" cy="207.20" r="1.08" fill="#1b3a8a"/>
<circle cx="453.10" cy="211.30" r="1.08" fill="#1b3a8a"/>
<circle cx="452.20" cy="213.20" r="1.08" fill="#1b3a8a"/>
<circle cx="453.10" cy="214.70" r="1.08" fill="#1b3a8a"/>
<circle cx="452.20" cy="218.80" r="1.08" fill="#1b3a8a"/>
<circle cx="457.08" cy="234.00" r="1.08" fill="#1b3a8a"/>
<circle cx="457.98" cy="238.30" r="1.08" fill="#1b3a8a"/>
<circle cx="457.08" cy="240.20" r="1.08" fill="#1b3a8a"/>
<circle cx="461.96" cy="241.10" r="1.08" fill="#1b3a8a"/>
<circle cx="462.86" cy="243.00" r="1.08" fill="#1b3a8a"/>
<circle cx="461.96" cy="244.80" r="1.08" fill="#1b3a8a"/>
<circle cx="466.84" cy="243.90" r="1.08" fill="#1b3a8a"/>
<circle cx="467.74" cy="245.80" r="1.08" fill="#1b3a8a"/>
<circle cx="466.84" cy="247.60" r="1.08" fill="#1b3a8a"/>
<circle cx="471.72" cy="244.50" r="1.08" fill="#1b3a8a"/>
<circle cx="472.62" cy="246.70" r="1.08" fill="#1b3a8a"/>
<circle cx="471.72" cy="248.60" r="1.08" fill="#1b3a8a"/>
<circle cx="476.60" cy="247.60" r="1.08" fill="#1b3a8a"/>
<circle cx="477.50" cy="249.50" r="1.08" fill="#1b3a8a"/>
<circle cx="476.60" cy="251.30" r="1.08" fill="#1b3a8a"/>
<circle cx="484.60" cy="213.80" r="1.08" fill="#ac0828"/>
<circle cx="485.50" cy="215.90" r="1.08" fill="#ac0828"/>
<circle cx="484.60" cy="218.30" r="1.08" fill="#ac0828"/>
<circle cx="485.50" cy="219.90" r="1.08" fill="#ac0828"/>
<circle cx="484.60" cy="224.60" r="1.08" fill="#ac0828"/>
<circle cx="489.48" cy="237.80" r="1.08" fill="#ac0828"/>
<circle cx="490.38" cy="239.80" r="1.08" fill="#ac0828"/>
<circle cx="489.48" cy="241.90" r="1.08" fill="#ac0828"/>
<circle cx="494.36" cy="241.10" r="1.08" fill="#ac0828"/>
<circle cx="495.26" cy="243.10" r="1.08" fill="#ac0828"/>
<circle cx="494.36" cy="244.80" r="1.08" fill="#ac0828"/>
<circle cx="499.24" cy="245.30" r="1.08" fill="#ac0828"/>
<circle cx="500.14" cy="246.90" r="1.08" fill="#ac0828"/>
<circle cx="499.24" cy="248.10" r="1.08" fill="#ac0828"/>
<circle cx="504.12" cy="246.40" r="1.08" fill="#ac0828"/>
<circle cx="505.02" cy="247.70" r="1.08" fill="#ac0828"/>
<circle cx="504.12" cy="249.40" r="1.08" fill="#ac0828"/>
<circle cx="509.00" cy="248.60" r="1.08" fill="#ac0828"/>
<circle cx="509.90" cy="250.20" r="1.08" fill="#ac0828"/>
<circle cx="509.00" cy="251.90" r="1.08" fill="#ac0828"/>
<line x1="416.6" y1="188.2" x2="416.6" y2="255.8" stroke="#111" stroke-width="1.1"/>
<line x1="416.1" y1="255.3" x2="512.6" y2="255.3" stroke="#111" stroke-width="1.1"/>
<line x1="413.8" y1="255.30" x2="416.6" y2="255.30" stroke="#000" stroke-width="1.0"/>
<text x="411.0" y="257.70" font-size="5.3" fill="#333" text-anchor="end">0</text>
<line x1="415.0" y1="252.62" x2="416.6" y2="252.62" stroke="#000" stroke-width="0.9"/>
<line x1="415.0" y1="249.93" x2="416.6" y2="249.93" stroke="#000" stroke-width="0.9"/>
<line x1="415.0" y1="247.25" x2="416.6" y2="247.25" stroke="#000" stroke-width="0.9"/>
<line x1="415.0" y1="244.56" x2="416.6" y2="244.56" stroke="#000" stroke-width="0.9"/>
<line x1="415.0" y1="241.88" x2="416.6" y2="241.88" stroke="#000" stroke-width="0.9"/>
<line x1="415.0" y1="239.19" x2="416.6" y2="239.19" stroke="#000" stroke-width="0.9"/>
<line x1="415.0" y1="236.50" x2="416.6" y2="236.50" stroke="#000" stroke-width="0.9"/>
<line x1="415.0" y1="233.82" x2="416.6" y2="233.82" stroke="#000" stroke-width="0.9"/>
<line x1="415.0" y1="231.14" x2="416.6" y2="231.14" stroke="#000" stroke-width="0.9"/>
<line x1="413.8" y1="228.45" x2="416.6" y2="228.45" stroke="#000" stroke-width="1.0"/>
<text x="411.0" y="230.85" font-size="5.3" fill="#333" text-anchor="end">50</text>
<line x1="415.0" y1="225.77" x2="416.6" y2="225.77" stroke="#000" stroke-width="0.9"/>
<line x1="415.0" y1="223.08" x2="416.6" y2="223.08" stroke="#000" stroke-width="0.9"/>
<line x1="415.0" y1="220.40" x2="416.6" y2="220.40" stroke="#000" stroke-width="0.9"/>
<line x1="415.0" y1="217.71" x2="416.6" y2="217.71" stroke="#000" stroke-width="0.9"/>
<line x1="415.0" y1="215.03" x2="416.6" y2="215.03" stroke="#000" stroke-width="0.9"/>
<line x1="415.0" y1="212.34" x2="416.6" y2="212.34" stroke="#000" stroke-width="0.9"/>
<line x1="415.0" y1="209.66" x2="416.6" y2="209.66" stroke="#000" stroke-width="0.9"/>
<line x1="415.0" y1="206.97" x2="416.6" y2="206.97" stroke="#000" stroke-width="0.9"/>
<line x1="415.0" y1="204.29" x2="416.6" y2="204.29" stroke="#000" stroke-width="0.9"/>
<line x1="413.8" y1="201.60" x2="416.6" y2="201.60" stroke="#000" stroke-width="1.0"/>
<text x="411.0" y="204.00" font-size="5.3" fill="#333" text-anchor="end">100</text>
<line x1="415.0" y1="198.92" x2="416.6" y2="198.92" stroke="#000" stroke-width="0.9"/>
<line x1="415.0" y1="196.23" x2="416.6" y2="196.23" stroke="#000" stroke-width="0.9"/>
<line x1="415.0" y1="193.55" x2="416.6" y2="193.55" stroke="#000" stroke-width="0.9"/>
<line x1="415.0" y1="190.86" x2="416.6" y2="190.86" stroke="#000" stroke-width="0.9"/>
<line x1="415.0" y1="188.18" x2="416.6" y2="188.18" stroke="#000" stroke-width="0.9"/>
<text transform="translate(418.65,258.8) rotate(90)" font-size="4.3" fill="#4a4a4a" stroke="#4a4a4a" stroke-width="0.15" textLength="9.5" lengthAdjust="spacingAndGlyphs">10m</text>
<text transform="translate(423.53,258.8) rotate(90)" font-size="4.3" fill="#4a4a4a" stroke="#4a4a4a" stroke-width="0.15" textLength="6.0" lengthAdjust="spacingAndGlyphs">1h</text>
<text transform="translate(428.41,258.8) rotate(90)" font-size="4.3" fill="#4a4a4a" stroke="#4a4a4a" stroke-width="0.15" textLength="6.0" lengthAdjust="spacingAndGlyphs">2h</text>
<text transform="translate(433.29,258.8) rotate(90)" font-size="4.3" fill="#4a4a4a" stroke="#4a4a4a" stroke-width="0.15" textLength="6.0" lengthAdjust="spacingAndGlyphs">4h</text>
<text transform="translate(438.17,258.8) rotate(90)" font-size="4.3" fill="#4a4a4a" stroke="#4a4a4a" stroke-width="0.15" textLength="6.0" lengthAdjust="spacingAndGlyphs">6h</text>
<text transform="translate(443.05,258.8) rotate(90)" font-size="4.3" fill="#4a4a4a" stroke="#4a4a4a" stroke-width="0.15" textLength="9.0" lengthAdjust="spacingAndGlyphs">24h</text>
<text transform="translate(451.05,258.8) rotate(90)" font-size="4.3" fill="#4a4a4a" stroke="#4a4a4a" stroke-width="0.15" textLength="9.5" lengthAdjust="spacingAndGlyphs">10m</text>
<text transform="translate(455.93,258.8) rotate(90)" font-size="4.3" fill="#4a4a4a" stroke="#4a4a4a" stroke-width="0.15" textLength="6.0" lengthAdjust="spacingAndGlyphs">1h</text>
<text transform="translate(460.81,258.8) rotate(90)" font-size="4.3" fill="#4a4a4a" stroke="#4a4a4a" stroke-width="0.15" textLength="6.0" lengthAdjust="spacingAndGlyphs">2h</text>
<text transform="translate(465.69,258.8) rotate(90)" font-size="4.3" fill="#4a4a4a" stroke="#4a4a4a" stroke-width="0.15" textLength="6.0" lengthAdjust="spacingAndGlyphs">4h</text>
<text transform="translate(470.57,258.8) rotate(90)" font-size="4.3" fill="#4a4a4a" stroke="#4a4a4a" stroke-width="0.15" textLength="6.0" lengthAdjust="spacingAndGlyphs">6h</text>
<text transform="translate(475.45,258.8) rotate(90)" font-size="4.3" fill="#4a4a4a" stroke="#4a4a4a" stroke-width="0.15" textLength="9.0" lengthAdjust="spacingAndGlyphs">24h</text>
<text transform="translate(483.45,258.8) rotate(90)" font-size="4.3" fill="#4a4a4a" stroke="#4a4a4a" stroke-width="0.15" textLength="9.5" lengthAdjust="spacingAndGlyphs">10m</text>
<text transform="translate(488.33,258.8) rotate(90)" font-size="4.3" fill="#4a4a4a" stroke="#4a4a4a" stroke-width="0.15" textLength="6.0" lengthAdjust="spacingAndGlyphs">1h</text>
<text transform="translate(493.21,258.8) rotate(90)" font-size="4.3" fill="#4a4a4a" stroke="#4a4a4a" stroke-width="0.15" textLength="6.0" lengthAdjust="spacingAndGlyphs">2h</text>
<text transform="translate(498.09,258.8) rotate(90)" font-size="4.3" fill="#4a4a4a" stroke="#4a4a4a" stroke-width="0.15" textLength="6.0" lengthAdjust="spacingAndGlyphs">4h</text>
<text transform="translate(502.97,258.8) rotate(90)" font-size="4.3" fill="#4a4a4a" stroke="#4a4a4a" stroke-width="0.15" textLength="6.0" lengthAdjust="spacingAndGlyphs">6h</text>
<text transform="translate(507.85,258.8) rotate(90)" font-size="4.3" fill="#4a4a4a" stroke="#4a4a4a" stroke-width="0.15" textLength="9.0" lengthAdjust="spacingAndGlyphs">24h</text>
<text x="426.50" y="280.7" font-size="8.0" fill="#1a1a1a" stroke="#1a1a1a" stroke-width="0.3" textLength="8.5" lengthAdjust="spacingAndGlyphs">KEL</text>
<text x="434.90" y="278.10" font-size="5.4" font-weight="bold" fill="#333" textLength="3.1" lengthAdjust="spacingAndGlyphs">lo</text>
<text x="456.85" y="280.7" font-size="8.0" fill="#1a1a1a" stroke="#1a1a1a" stroke-width="0.3" textLength="8.5" lengthAdjust="spacingAndGlyphs">KEL</text>
<text x="465.25" y="278.10" font-size="5.4" font-weight="bold" fill="#333" textLength="6.8" lengthAdjust="spacingAndGlyphs">med</text>
<text x="491.75" y="280.7" font-size="8.0" fill="#1a1a1a" stroke="#1a1a1a" stroke-width="0.3" textLength="8.5" lengthAdjust="spacingAndGlyphs">KEL</text>
<text x="500.15" y="278.10" font-size="5.4" font-weight="bold" fill="#333" textLength="2.8" lengthAdjust="spacingAndGlyphs">hi</text>
<line x1="423" y1="233.7" x2="447.5" y2="233.7" stroke="#6a6a6a" stroke-width="1.6"/>
<text x="435.25" y="233.60" font-size="4.4" fill="#3a3a3a" stroke="#3a3a3a" stroke-width="0.1" text-anchor="middle" textLength="7.00" lengthAdjust="spacingAndGlyphs">****</text>
<line x1="456.1" y1="231.4" x2="480.7" y2="231.4" stroke="#6a6a6a" stroke-width="1.6"/>
<text x="468.40" y="231.30" font-size="4.4" fill="#3a3a3a" stroke="#3a3a3a" stroke-width="0.1" text-anchor="middle" textLength="7.00" lengthAdjust="spacingAndGlyphs">****</text>
<line x1="488" y1="234.2" x2="512.8" y2="234.2" stroke="#6a6a6a" stroke-width="1.6"/>
<text x="500.40" y="234.10" font-size="4.4" fill="#3a3a3a" stroke="#3a3a3a" stroke-width="0.1" text-anchor="middle" textLength="7.00" lengthAdjust="spacingAndGlyphs">****</text>
</svg>
<div class="frame"></div>
</body></html>
